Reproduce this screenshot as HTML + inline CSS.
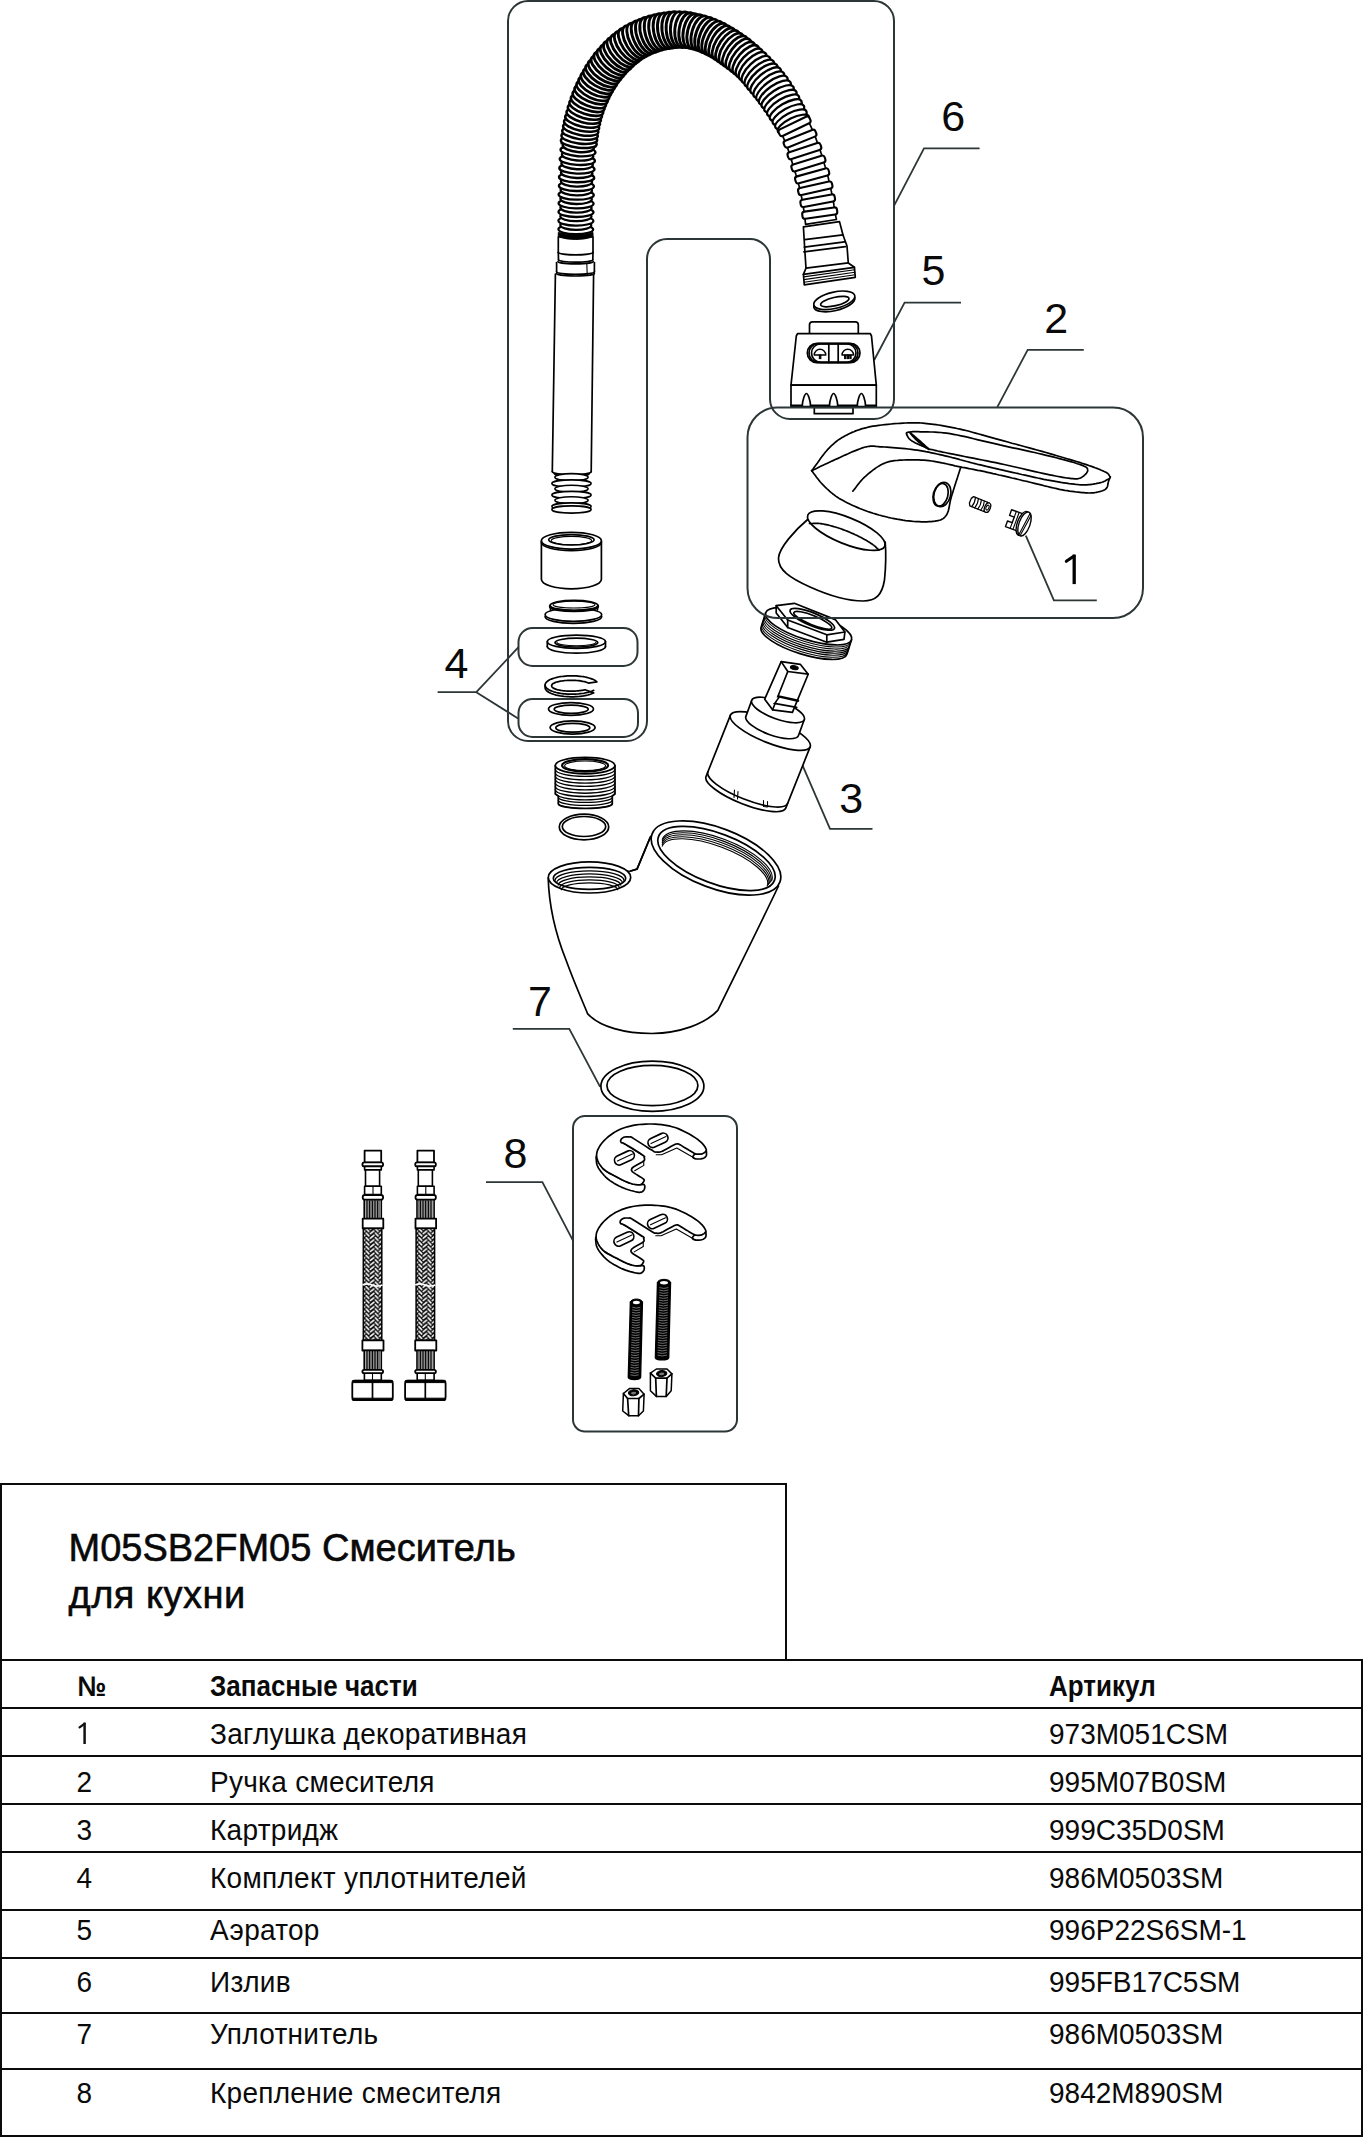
<!DOCTYPE html>
<html><head><meta charset="utf-8"><style>
html,body{margin:0;padding:0;background:#fff;}
body{width:1364px;height:2137px;position:relative;overflow:hidden;font-family:"Liberation Sans",sans-serif;color:#000;}
svg{position:absolute;left:0;top:0;}
.t{position:absolute;white-space:nowrap;line-height:1;font-family:"Liberation Sans",sans-serif;color:#0a0a0a;}
.b{font-weight:bold;}
.hl{position:absolute;left:0;height:2px;background:#0b0b0b;}
.vl{position:absolute;width:2px;background:#0b0b0b;}
.k{fill:none;stroke:#000;stroke-width:1.7;stroke-linejoin:round;stroke-linecap:round;}
.kw{fill:#fff;stroke:#000;stroke-width:1.7;stroke-linejoin:round;stroke-linecap:round;}
.kt{fill:none;stroke:#000;stroke-width:1.1;stroke-linejoin:round;stroke-linecap:round;}
.kb{fill:#000;stroke:#000;stroke-width:1;}
.bx{fill:none;stroke:#2d3636;stroke-width:2;}
.cl{fill:none;stroke:#2d3636;stroke-width:1.8;stroke-linecap:butt;}
</style></head><body>
<svg width="1364" height="2137" viewBox="0 0 1364 2137">
<path class="cl" d="M894.1 205.6 L924 148.3 L979.6 148.3"/>
<path class="cl" d="M874.2 360 L904.6 302.6 L961 302.6"/>
<path class="cl" d="M997.3 407.2 L1027.7 349.8 L1083.8 349.8"/>
<path class="cl" d="M1025.8 535.7 L1053.9 600.3 L1096.8 600.3"/>
<path class="cl" d="M802.1 764.3 L830 828.8 L872.5 828.8"/>
<path class="cl" d="M437.6 692.2 L476.3 692.2 L518.5 647.2"/>
<path class="cl" d="M476.3 692.2 L518.1 718.4"/>
<path class="cl" d="M512.8 1028.9 L569.3 1028.9 L600.1 1086.8"/>
<path class="cl" d="M486 1182.2 L542.4 1182.2 L573 1240.6"/>
<path fill="#000" stroke="#000" style="stroke-width:1.5" d="M595.6 146.9 L595.9 144.4 L596.2 142 L596.5 139.5 L596.8 137.1 L597.2 134.7 L597.6 132.3 L598 129.9 L598.4 127.5 L598.9 125.1 L599.5 122.7 L600 120.4 L600.7 118.1 L601.3 115.8 L602.1 113.5 L602.8 111.2 L603.7 108.9 L604.5 106.6 L605.5 104.4 L606.4 102.2 L607.4 100 L608.4 97.9 L609.5 95.7 L610.6 93.6 L611.7 91.5 L612.9 89.5 L614.1 87.4 L615.3 85.4 L616.6 83.5 L617.9 81.6 L619.3 79.8 L620.7 78 L622.1 76.2 L623.6 74.5 L625.1 72.8 L626.7 71.1 L628.3 69.5 L630 67.8 L631.7 66.3 L633.4 64.7 L635.1 63.2 L636.8 61.8 L638.5 60.5 L640.2 59.3 L641.9 58.1 L643.6 57 L645.4 56 L647.2 55 L649.1 54 L651.1 53.1 L653.1 52.2 L655.2 51.4 L657.3 50.7 L659.4 50 L661.5 49.4 L663.6 48.8 L665.8 48.3 L668 47.9 L670.2 47.5 L672.4 47.2 L674.6 46.9 L676.8 46.8 L678.7 46.7 L680.6 46.6 L682.4 46.7 L684.3 46.8 L686.4 47 L688.7 47.3 L690.9 47.8 L693.1 48.3 L695.2 49 L697.3 49.6 L699.2 50.3 L701.2 51.1 L703.2 51.9 L705.2 52.9 L707.1 53.8 L709.1 54.9 L711.1 56.1 L713.2 57.3 L715.2 58.6 L717.2 60 L719.2 61.3 L721.2 62.8 L723.1 64.2 L725.1 65.7 L727.1 67.1 L729 68.6 L731 70.1 L732.8 71.6 L734.7 73.2 L736.5 74.8 L738.2 76.4 L739.9 78.1 L741.5 79.8 L743 81.5 L744.5 83.3 L746.1 85.2 L747.6 87.2 L749.2 89.2 L750.9 91.2 L752.5 93.3 L754.1 95.2 L755.7 97.2 L757.1 99 L758.6 100.8 L760 102.7 L761.3 104.6 L762.7 106.6 L764.1 108.6 L765.6 110.8 L767 112.9 L768.4 115.1 L769.9 117.3 L771.3 119.5 L772.7 121.6 L774.1 123.7 L775.4 125.8 L776.6 127.9 L777.9 130.1 L779.1 132.3 L808.7 117.8 L807.4 115.2 L806.2 112.5 L804.9 109.9 L803.7 107.2 L802.4 104.6 L801.1 102.1 L799.7 99.6 L798.4 97.1 L797 94.7 L795.6 92.2 L794.2 89.7 L792.7 87.2 L791.1 84.7 L789.4 82.2 L787.7 79.6 L785.9 77.1 L784 74.6 L782.2 72.4 L780.4 70.2 L778.6 68 L776.7 65.9 L774.8 63.8 L772.8 61.7 L770.7 59.5 L768.6 57.4 L766.4 55.3 L764.1 53.1 L761.9 51.1 L759.6 49 L757.3 47 L755 45.1 L752.7 43.2 L750.4 41.3 L748.1 39.5 L745.7 37.7 L743.3 36 L740.9 34.3 L738.4 32.7 L735.9 31.1 L733.3 29.5 L730.7 28 L728.1 26.5 L725.3 25 L722.6 23.6 L719.7 22.2 L716.8 20.8 L713.7 19.6 L710.6 18.5 L707.5 17.5 L704.3 16.6 L701.2 15.8 L698.1 15.1 L695.1 14.5 L692 13.9 L688.8 13.3 L685.3 12.8 L681.7 12.5 L678.2 12.4 L674.7 12.5 L671.5 12.7 L668.3 13.1 L665.1 13.5 L662 14 L658.9 14.6 L655.8 15.2 L652.6 16 L649.5 16.8 L646.5 17.7 L643.4 18.8 L640.5 19.8 L637.5 21 L634.5 22.3 L631.5 23.7 L628.6 25.2 L625.6 26.8 L622.8 28.6 L620 30.4 L617.3 32.4 L614.7 34.4 L612.3 36.4 L609.9 38.5 L607.6 40.6 L605.4 42.8 L603.3 45 L601.1 47.3 L599.1 49.6 L597.1 52 L595.1 54.4 L593.2 56.9 L591.4 59.5 L589.6 62 L587.9 64.7 L586.2 67.3 L584.7 69.9 L583.2 72.6 L581.7 75.2 L580.3 77.9 L579 80.6 L577.7 83.3 L576.4 86.1 L575.2 88.9 L574.1 91.7 L573 94.5 L572 97.3 L571 100.1 L570 102.9 L569.1 105.8 L568.2 108.7 L567.4 111.5 L566.6 114.4 L565.8 117.3 L565.1 120.2 L564.5 123.1 L563.9 126 L563.3 129 L562.8 131.9 L562.4 134.8 L562 137.8 L561.6 140.6 L561.3 143.5 Z"/>
<ellipse class="kw" cx="575.8" cy="229.4" rx="17.4" ry="4.8" transform="rotate(0.5 575.8 229.4)" style="stroke-width:2.2"/>
<ellipse class="kw" cx="575.8" cy="225.1" rx="15.5" ry="4.8" transform="rotate(0.5 575.8 225.1)" style="stroke-width:2.2"/>
<ellipse class="kw" cx="575.9" cy="220.8" rx="17.5" ry="4.8" transform="rotate(0.5 575.9 220.8)" style="stroke-width:2.2"/>
<ellipse class="kw" cx="575.9" cy="216.4" rx="15.6" ry="4.8" transform="rotate(0.6 575.9 216.4)" style="stroke-width:2.2"/>
<ellipse class="kw" cx="576" cy="212.1" rx="17.5" ry="4.9" transform="rotate(0.7 576 212.1)" style="stroke-width:2.3"/>
<ellipse class="kw" cx="576" cy="207.8" rx="15.6" ry="4.9" transform="rotate(0.8 576 207.8)" style="stroke-width:2.3"/>
<ellipse class="kw" cx="576.1" cy="203.5" rx="17.5" ry="4.9" transform="rotate(0.9 576.1 203.5)" style="stroke-width:2.3"/>
<ellipse class="kw" cx="576.1" cy="199.1" rx="15.7" ry="4.9" transform="rotate(1 576.1 199.1)" style="stroke-width:2.3"/>
<ellipse class="kw" cx="576.2" cy="194.8" rx="17.6" ry="4.9" transform="rotate(1.1 576.2 194.8)" style="stroke-width:2.3"/>
<ellipse class="kw" cx="576.3" cy="190.4" rx="15.7" ry="4.9" transform="rotate(1.2 576.3 190.4)" style="stroke-width:2.3"/>
<ellipse class="kw" cx="576.4" cy="186.1" rx="17.5" ry="4.9" transform="rotate(1.3 576.4 186.1)" style="stroke-width:2.3"/>
<ellipse class="kw" cx="576.5" cy="181.7" rx="15.6" ry="4.9" transform="rotate(1.4 576.5 181.7)" style="stroke-width:2.3"/>
<ellipse class="kw" cx="576.6" cy="177.4" rx="17.6" ry="4.9" transform="rotate(1.5 576.6 177.4)" style="stroke-width:2.4"/>
<ellipse class="kw" cx="576.7" cy="173" rx="15.7" ry="5" transform="rotate(1.7 576.7 173)" style="stroke-width:2.4"/>
<ellipse class="kw" cx="576.9" cy="168.6" rx="17.6" ry="5" transform="rotate(2.2 576.9 168.6)" style="stroke-width:2.4"/>
<ellipse class="kw" cx="577.1" cy="164.2" rx="15.7" ry="5" transform="rotate(2.9 577.1 164.2)" style="stroke-width:2.4"/>
<ellipse class="kw" cx="577.3" cy="159.9" rx="17.6" ry="5" transform="rotate(3.5 577.3 159.9)" style="stroke-width:2.4"/>
<ellipse class="kw" cx="577.6" cy="155.5" rx="15.7" ry="5" transform="rotate(4.1 577.6 155.5)" style="stroke-width:2.4"/>
<ellipse class="kw" cx="578" cy="151.1" rx="17.5" ry="5.1" transform="rotate(4.6 578 151.1)" style="stroke-width:2.4"/>
<ellipse class="kw" cx="578.3" cy="146.7" rx="15.6" ry="5.3" transform="rotate(5.4 578.3 146.7)" style="stroke-width:2.5"/>
<ellipse class="kw" cx="578.8" cy="142.3" rx="18" ry="5.4" transform="rotate(6.4 578.8 142.3)" style="stroke-width:2.5"/>
<ellipse class="kw" cx="579.3" cy="137.9" rx="18" ry="5.6" transform="rotate(7.6 579.3 137.9)" style="stroke-width:2.5"/>
<ellipse class="kw" cx="580" cy="133.5" rx="18" ry="5.7" transform="rotate(9 580 133.5)" style="stroke-width:2.5"/>
<ellipse class="kw" cx="580.7" cy="129.1" rx="17.9" ry="5.9" transform="rotate(10.5 580.7 129.1)" style="stroke-width:2.5"/>
<ellipse class="kw" cx="581.6" cy="124.8" rx="17.9" ry="6" transform="rotate(12 581.6 124.8)" style="stroke-width:2.5"/>
<ellipse class="kw" cx="582.6" cy="120.4" rx="17.8" ry="6.2" transform="rotate(13.5 582.6 120.4)" style="stroke-width:2.6"/>
<ellipse class="kw" cx="583.7" cy="116.1" rx="17.7" ry="6.3" transform="rotate(15.1 583.7 116.1)" style="stroke-width:2.6"/>
<ellipse class="kw" cx="584.9" cy="111.8" rx="17.7" ry="6.4" transform="rotate(16.7 584.9 111.8)" style="stroke-width:2.6"/>
<ellipse class="kw" cx="586.3" cy="107.5" rx="17.7" ry="6.6" transform="rotate(18.5 586.3 107.5)" style="stroke-width:2.6"/>
<ellipse class="kw" cx="587.7" cy="103.3" rx="17.7" ry="6.7" transform="rotate(20.1 587.7 103.3)" style="stroke-width:2.7"/>
<ellipse class="kw" cx="589.3" cy="99.1" rx="17.7" ry="6.9" transform="rotate(21.7 589.3 99.1)" style="stroke-width:2.7"/>
<ellipse class="kw" cx="591.1" cy="94.9" rx="17.8" ry="7" transform="rotate(23.4 591.1 94.9)" style="stroke-width:2.7"/>
<ellipse class="kw" cx="592.9" cy="90.9" rx="17.8" ry="7.2" transform="rotate(25.2 592.9 90.9)" style="stroke-width:2.7"/>
<ellipse class="kw" cx="594.8" cy="86.9" rx="17.8" ry="7.3" transform="rotate(26.9 594.8 86.9)" style="stroke-width:2.8"/>
<ellipse class="kw" cx="596.9" cy="83" rx="17.9" ry="7.5" transform="rotate(28.7 596.9 83)" style="stroke-width:2.8"/>
<ellipse class="kw" cx="599.1" cy="79.2" rx="17.9" ry="7.5" transform="rotate(30.5 599.1 79.2)" style="stroke-width:2.8"/>
<ellipse class="kw" cx="601.3" cy="75.5" rx="18" ry="7.6" transform="rotate(32.5 601.3 75.5)" style="stroke-width:2.9"/>
<ellipse class="kw" cx="603.7" cy="71.9" rx="18" ry="7.7" transform="rotate(34.6 603.7 71.9)" style="stroke-width:2.9"/>
<ellipse class="kw" cx="606.3" cy="68.4" rx="18.1" ry="7.7" transform="rotate(36.9 606.3 68.4)" style="stroke-width:2.9"/>
<ellipse class="kw" cx="608.9" cy="65" rx="18.2" ry="7.8" transform="rotate(39.1 608.9 65)" style="stroke-width:2.9"/>
<ellipse class="kw" cx="611.7" cy="61.7" rx="18.2" ry="7.9" transform="rotate(41.3 611.7 61.7)" style="stroke-width:2.9"/>
<ellipse class="kw" cx="614.6" cy="58.5" rx="18.3" ry="7.9" transform="rotate(43.4 614.6 58.5)" style="stroke-width:2.9"/>
<ellipse class="kw" cx="617.6" cy="55.5" rx="18.4" ry="8" transform="rotate(45.4 617.6 55.5)" style="stroke-width:2.9"/>
<ellipse class="kw" cx="620.7" cy="52.5" rx="18.4" ry="8" transform="rotate(47.5 620.7 52.5)" style="stroke-width:2.9"/>
<ellipse class="kw" cx="623.9" cy="49.6" rx="18.4" ry="8.1" transform="rotate(49.7 623.9 49.6)" style="stroke-width:2.9"/>
<ellipse class="kw" cx="627.3" cy="46.9" rx="18.4" ry="8.2" transform="rotate(52.4 627.3 46.9)" style="stroke-width:2.9"/>
<ellipse class="kw" cx="630.7" cy="44.4" rx="18.4" ry="8.2" transform="rotate(55.6 630.7 44.4)" style="stroke-width:2.9"/>
<ellipse class="kw" cx="634.4" cy="42.1" rx="18.4" ry="8.3" transform="rotate(59 634.4 42.1)" style="stroke-width:2.9"/>
<ellipse class="kw" cx="638.1" cy="40" rx="18.3" ry="8.4" transform="rotate(62.3 638.1 40)" style="stroke-width:2.9"/>
<ellipse class="kw" cx="642" cy="38.1" rx="18.3" ry="8.4" transform="rotate(65.4 642 38.1)" style="stroke-width:2.9"/>
<ellipse class="kw" cx="645.9" cy="36.4" rx="18.2" ry="8.5" transform="rotate(68 645.9 36.4)" style="stroke-width:2.9"/>
<ellipse class="kw" cx="649.9" cy="34.9" rx="18.2" ry="8.6" transform="rotate(70.6 649.9 34.9)" style="stroke-width:2.9"/>
<ellipse class="kw" cx="654" cy="33.5" rx="18.1" ry="8.6" transform="rotate(73.2 654 33.5)" style="stroke-width:2.9"/>
<ellipse class="kw" cx="658.2" cy="32.4" rx="18.1" ry="8.7" transform="rotate(75.8 658.2 32.4)" style="stroke-width:2.9"/>
<ellipse class="kw" cx="662.4" cy="31.4" rx="18" ry="8.7" transform="rotate(78.4 662.4 31.4)" style="stroke-width:2.9"/>
<ellipse class="kw" cx="666.6" cy="30.7" rx="18" ry="8.8" transform="rotate(80.9 666.6 30.7)" style="stroke-width:2.9"/>
<ellipse class="kw" cx="670.9" cy="30.1" rx="18" ry="8.9" transform="rotate(83.4 670.9 30.1)" style="stroke-width:2.9"/>
<ellipse class="kw" cx="675.1" cy="29.7" rx="18" ry="8.9" transform="rotate(86.2 675.1 29.7)" style="stroke-width:2.9"/>
<ellipse class="kw" cx="679.4" cy="29.5" rx="17.9" ry="9" transform="rotate(90.1 679.4 29.5)" style="stroke-width:2.9"/>
<ellipse class="kw" cx="683.7" cy="29.7" rx="17.8" ry="8.9" transform="rotate(94.7 683.7 29.7)" style="stroke-width:2.9"/>
<ellipse class="kw" cx="688" cy="30.2" rx="17.6" ry="8.9" transform="rotate(98.7 688 30.2)" style="stroke-width:2.9"/>
<ellipse class="kw" cx="692.2" cy="31" rx="17.5" ry="8.8" transform="rotate(101.3 692.2 31)" style="stroke-width:2.9"/>
<ellipse class="kw" cx="696.4" cy="31.9" rx="17.5" ry="8.8" transform="rotate(103.6 696.4 31.9)" style="stroke-width:2.9"/>
<ellipse class="kw" cx="700.6" cy="33" rx="17.6" ry="8.7" transform="rotate(106.3 700.6 33)" style="stroke-width:2.9"/>
<ellipse class="kw" cx="704.7" cy="34.3" rx="17.7" ry="8.6" transform="rotate(109.4 704.7 34.3)" style="stroke-width:2.9"/>
<ellipse class="kw" cx="708.7" cy="35.9" rx="17.8" ry="8.6" transform="rotate(112.6 708.7 35.9)" style="stroke-width:2.9"/>
<ellipse class="kw" cx="712.6" cy="37.6" rx="17.8" ry="8.5" transform="rotate(115.5 712.6 37.6)" style="stroke-width:2.9"/>
<ellipse class="kw" cx="716.4" cy="39.5" rx="17.8" ry="8.4" transform="rotate(118 716.4 39.5)" style="stroke-width:2.9"/>
<ellipse class="kw" cx="720.2" cy="41.6" rx="17.8" ry="8.4" transform="rotate(120.1 720.2 41.6)" style="stroke-width:2.9"/>
<ellipse class="kw" cx="723.9" cy="43.9" rx="17.9" ry="8.3" transform="rotate(121.8 723.9 43.9)" style="stroke-width:2.8"/>
<ellipse class="kw" cx="727.6" cy="46.2" rx="18" ry="8.3" transform="rotate(123.4 727.6 46.2)" style="stroke-width:2.8"/>
<ellipse class="kw" cx="731.2" cy="48.7" rx="18.1" ry="8.2" transform="rotate(124.8 731.2 48.7)" style="stroke-width:2.8"/>
<ellipse class="kw" cx="734.9" cy="51.3" rx="18.2" ry="8.1" transform="rotate(126.3 734.9 51.3)" style="stroke-width:2.7"/>
<ellipse class="kw" cx="738.5" cy="54" rx="18.2" ry="8.1" transform="rotate(127.6 738.5 54)" style="stroke-width:2.7"/>
<ellipse class="kw" cx="742.1" cy="56.9" rx="18.1" ry="8" transform="rotate(129 742.1 56.9)" style="stroke-width:2.6"/>
<ellipse class="kw" cx="745.7" cy="59.8" rx="18.1" ry="7.9" transform="rotate(130.7 745.7 59.8)" style="stroke-width:2.6"/>
<ellipse class="kw" cx="749.2" cy="63" rx="18.1" ry="7.9" transform="rotate(132.6 749.2 63)" style="stroke-width:2.5"/>
<ellipse class="kw" cx="752.6" cy="66.2" rx="18.2" ry="7.8" transform="rotate(134.6 752.6 66.2)" style="stroke-width:2.5"/>
<ellipse class="kw" cx="756" cy="69.7" rx="18.4" ry="7.7" transform="rotate(136.8 756 69.7)" style="stroke-width:2.4"/>
<ellipse class="kw" cx="759.3" cy="73.3" rx="18.6" ry="7.6" transform="rotate(138.5 759.3 73.3)" style="stroke-width:2.4"/>
<ellipse class="kw" cx="762.4" cy="77" rx="18.8" ry="7.6" transform="rotate(139.5 762.4 77)" style="stroke-width:2.4"/>
<ellipse class="kw" cx="765.6" cy="80.7" rx="18.9" ry="7.5" transform="rotate(140.2 765.6 80.7)" style="stroke-width:2.4"/>
<ellipse class="kw" cx="768.8" cy="84.6" rx="18.9" ry="7.4" transform="rotate(141.1 768.8 84.6)" style="stroke-width:2.4"/>
<ellipse class="kw" cx="771.9" cy="88.5" rx="18.9" ry="7.2" transform="rotate(142.9 771.9 88.5)" style="stroke-width:2.3"/>
<ellipse class="kw" cx="774.8" cy="92.6" rx="18.8" ry="7.1" transform="rotate(145.3 774.8 92.6)" style="stroke-width:2.3"/>
<ellipse class="kw" cx="777.6" cy="96.8" rx="18.6" ry="7" transform="rotate(147.1 777.6 96.8)" style="stroke-width:2.3"/>
<ellipse class="kw" cx="780.4" cy="101.1" rx="18.5" ry="6.8" transform="rotate(148.3 780.4 101.1)" style="stroke-width:2.3"/>
<ellipse class="kw" cx="783.1" cy="105.5" rx="18.3" ry="6.7" transform="rotate(148.9 783.1 105.5)" style="stroke-width:2.3"/>
<ellipse class="kw" cx="785.7" cy="110" rx="18.1" ry="6.6" transform="rotate(149.6 785.7 110)" style="stroke-width:2.3"/>
<ellipse class="kw" cx="788.4" cy="114.6" rx="17.8" ry="6.4" transform="rotate(150.6 788.4 114.6)" style="stroke-width:2.2"/>
<ellipse class="kw" cx="790.9" cy="119.3" rx="17.5" ry="6.3" transform="rotate(152.2 790.9 119.3)" style="stroke-width:2.2"/>
<ellipse class="kw" cx="793.4" cy="124.1" rx="17.3" ry="6.2" transform="rotate(153.6 793.4 124.1)" style="stroke-width:2.2"/>
<path class="kw" d="M781.1 132.8 L781.4 133.5 L781.8 134.2 L782.1 134.9 L782.4 135.6 L782.8 136.3 L783.1 137 L783.4 137.7 L783.7 138.4 L784 139.1 L784.3 139.8 L784.6 140.5 L784.9 141.2 L785.2 141.9 L785.5 142.6 L785.8 143.3 L786.1 144 L786.4 144.7 L786.6 145.4 L786.9 146.1 L787.1 146.8 L787.4 147.5 L787.7 148.3 L787.9 149 L788.1 149.7 L788.4 150.4 L788.6 151.2 L788.9 151.9 L789.1 152.6 L789.3 153.4 L789.6 154.1 L789.8 154.9 L790 155.7 L790.3 156.4 L790.5 157.2 L790.8 158 L791 158.7 L791.2 159.5 L791.5 160.3 L791.7 161.1 L792 161.9 L792.2 162.6 L792.4 163.4 L792.7 164.2 L792.9 165 L793.2 165.8 L793.4 166.5 L793.7 167.3 L793.9 168.1 L794.2 168.9 L794.4 169.6 L794.6 170.4 L794.9 171.2 L795.1 172 L795.4 172.7 L795.6 173.5 L795.8 174.3 L796.1 175.1 L796.3 175.8 L796.5 176.6 L796.7 177.3 L797 178.1 L797.2 178.9 L797.4 179.6 L797.6 180.4 L797.8 181.1 L798 181.9 L798.2 182.6 L798.4 183.4 L798.6 184.1 L798.8 184.9 L799 185.6 L799.2 186.4 L799.3 187.1 L799.5 187.9 L799.7 188.6 L799.9 189.4 L800.1 190.2 L800.2 191 L800.4 191.7 L800.6 192.5 L800.7 193.3 L800.9 194.1 L801.1 194.8 L801.2 195.6 L801.4 196.4 L801.6 197.2 L801.7 198 L801.9 198.7 L802 199.5 L802.2 200.3 L802.3 201.1 L802.5 201.8 L802.6 202.6 L802.7 203.4 L802.9 204.1 L803 204.9 L803.1 205.7 L803.3 206.4 L803.4 207.2 L803.5 207.9 L803.6 208.7 L803.7 209.5 L803.8 210.2 L803.9 211 L804 211.8 L804.1 212.6 L804.2 213.4 L804.3 214.3 L804.4 215.1 L804.5 215.9 L804.6 216.8 L804.8 217.6 L804.9 218.5 L805 219.3 L805.1 220.2 L805.2 221 L805.3 221.9 L805.4 222.7 L805.5 223.6 L805.6 224.4 L836.4 219.5 L836.3 218.7 L836.1 217.9 L835.9 217.1 L835.8 216.4 L835.6 215.6 L835.5 214.8 L835.4 214 L835.2 213.2 L835.1 212.4 L835 211.6 L834.8 210.8 L834.7 210 L834.6 209.1 L834.4 208.3 L834.3 207.5 L834.2 206.6 L834 205.7 L833.9 204.9 L833.8 204 L833.6 203.1 L833.5 202.3 L833.3 201.4 L833.2 200.5 L833 199.6 L832.8 198.7 L832.7 197.9 L832.5 197 L832.3 196.1 L832.2 195.3 L832 194.4 L831.8 193.6 L831.6 192.7 L831.5 191.9 L831.3 191 L831.1 190.2 L830.9 189.3 L830.7 188.5 L830.6 187.6 L830.4 186.8 L830.2 186 L830 185.1 L829.8 184.3 L829.6 183.4 L829.4 182.6 L829.2 181.7 L829 180.9 L828.8 180 L828.6 179.2 L828.4 178.3 L828.2 177.4 L828 176.6 L827.7 175.7 L827.5 174.9 L827.3 174 L827 173.1 L826.8 172.3 L826.6 171.4 L826.3 170.6 L826.1 169.8 L825.9 168.9 L825.6 168.1 L825.4 167.3 L825.1 166.4 L824.9 165.6 L824.6 164.8 L824.4 164 L824.2 163.1 L823.9 162.3 L823.7 161.5 L823.4 160.7 L823.2 159.9 L822.9 159.1 L822.7 158.3 L822.4 157.5 L822.2 156.7 L821.9 155.9 L821.7 155.1 L821.4 154.3 L821.2 153.5 L820.9 152.7 L820.6 151.9 L820.4 151 L820.1 150.2 L819.8 149.4 L819.6 148.6 L819.3 147.8 L819 147 L818.7 146.2 L818.4 145.4 L818.2 144.6 L817.9 143.7 L817.6 142.9 L817.3 142.1 L816.9 141.3 L816.6 140.4 L816.3 139.6 L816 138.7 L815.7 137.9 L815.3 137.1 L815 136.2 L814.7 135.4 L814.3 134.5 L814 133.7 L813.7 132.9 L813.3 132 L813 131.2 L812.6 130.4 L812.2 129.5 L811.9 128.7 L811.5 127.9 L811.2 127.1 L810.8 126.3 L810.4 125.5 L810.1 124.7 L809.7 123.8 L809.3 123 L809 122.2 L808.6 121.4 L808.2 120.6 L807.8 119.8 Z"/>
<rect class="kw" x="777.4" y="122.7" width="34.1" height="7.2" rx="2.6" transform="rotate(154.2 794.5 126.3)" style="stroke-width:2.1"/>
<rect class="kw" x="782.9" y="135.1" width="34.1" height="7.2" rx="2.6" transform="rotate(158.1 800 138.7)" style="stroke-width:2.1"/>
<rect class="kw" x="787.1" y="147.5" width="34.6" height="7.2" rx="2.6" transform="rotate(161.8 804.4 151.1)" style="stroke-width:2.1"/>
<rect class="kw" x="791" y="159.9" width="34.8" height="7.2" rx="2.6" transform="rotate(162.8 808.4 163.5)" style="stroke-width:2.1"/>
<rect class="kw" x="794.7" y="172.3" width="34.7" height="7.2" rx="2.6" transform="rotate(164.4 812.1 175.9)" style="stroke-width:2.1"/>
<rect class="kw" x="797.8" y="184.7" width="34.7" height="7.2" rx="2.6" transform="rotate(167.4 815.2 188.3)" style="stroke-width:2.1"/>
<rect class="kw" x="800.3" y="197.1" width="34.8" height="7.2" rx="2.6" transform="rotate(169.6 817.7 200.7)" style="stroke-width:2.1"/>
<rect class="kw" x="802.1" y="209.5" width="35.1" height="7.2" rx="2.6" transform="rotate(171.9 819.7 213.1)" style="stroke-width:2.1"/>
<path fill="none" stroke="#000" style="stroke-width:3.3" stroke-linecap="butt" d="M1074.2 554.6 L1074.2 584.1"/>
<path fill="none" stroke="#000" style="stroke-width:3.0" stroke-linecap="round" d="M1074 556 L1066.3 561.3"/>
<path fill="none" stroke="#111" style="stroke-width:2.5" stroke-linecap="butt" d="M84.6 1722.6 L84.6 1744"/>
<path fill="none" stroke="#111" style="stroke-width:2.3" stroke-linecap="round" d="M84.4 1723.8 L79.6 1727.4"/>
<path class="kb" d="M558.3 232.5 Q575.6 237.5 593 232.5 L593 237 Q575.6 242 558.3 237 Z"/>
<path class="k" d="M558.3 237 L558.3 252.5"/>
<path class="k" d="M593 237 L593 252.5"/>
<path class="k"  d="M558.3 252.3 A17.3 2.6 0 0 0 592.9 252.3"/>
<path class="k" d="M558.3 252.5 L558.5 260"/>
<path class="k" d="M593 252.5 L592.8 260"/>
<path class="k"  d="M558.5 259.8 A17.1 2.4 0 0 0 592.7 259.8"/>
<path class="k"  d="M558 261.5 A17.6 2.4 0 0 0 593.2 261.5"/>
<path class="k" d="M556.6 262.5 L556.6 272"/>
<path class="k" d="M594.4 262.5 L594.4 272"/>
<path class="k"  d="M556.6 271.8 A18.9 2.6 0 0 0 594.4 271.8"/>
<path class="k"  d="M556.6 273.6 A18.9 2.4 0 0 0 594.4 273.6"/>
<path class="kt" d="M586.8 263.5 L587.2 274.5"/>
<path class="k" d="M555.4 274 L552.3 471.5"/>
<path class="k" d="M593.6 274 L591.2 471.5"/>
<path class="k"  d="M552.3 471.5 A19.5 3.2 0 0 0 591.3 471.5"/>
<path class="k"  d="M554.3 473.5 A17.5 2.8 0 0 0 589.3 473.5"/>
<ellipse class="kw" cx="571.5" cy="477.2" rx="16.6" ry="3.6" style="stroke-width:1.6"/>
<ellipse class="kw" cx="571.5" cy="483.5" rx="19.6" ry="3.6" style="stroke-width:1.6"/>
<ellipse class="kw" cx="571.5" cy="488.8" rx="16.6" ry="3.6" style="stroke-width:1.6"/>
<ellipse class="kw" cx="571.5" cy="495" rx="19.6" ry="3.6" style="stroke-width:1.6"/>
<ellipse class="kw" cx="571.5" cy="500.3" rx="16.6" ry="3.6" style="stroke-width:1.6"/>
<ellipse class="kw" cx="571.5" cy="506.5" rx="19.6" ry="3.6" style="stroke-width:1.6"/>
<ellipse class="kw" cx="571.5" cy="509.5" rx="19.6" ry="3.6" style="stroke-width:1.6"/>
<path class="kw" d="M541.4 541 L541.4 579.3 A30 9.5 0 0 0 601.4 579.3 L601.4 541 Z"/>
<ellipse class="kw" cx="571.4" cy="540.7" rx="30" ry="8.4" />
<path class="k"  d="M541.4 542.3 A30 8.4 0 0 0 601.4 542.3"/>
<ellipse class="k" cx="571.4" cy="539.8" rx="22.7" ry="5.2" />
<ellipse class="kt" cx="571.4" cy="540.6" rx="20.2" ry="4.2" />
<ellipse class="kw" cx="573.4" cy="614.7" rx="28.3" ry="6.6" />
<path class="k"  d="M545.1 616.7 A28.3 6.6 0 0 0 601.7 616.7"/>
<ellipse class="kw" cx="574" cy="605.4" rx="23.9" ry="5" />
<path class="k" style="stroke-width:2.6" d="M550.1 606.4 A23.9 4.6 0 0 0 597.9 606.4"/>
<path class="k" d="M550.1 605.4 L550.6 609.8"/>
<path class="k" d="M597.9 605.4 L597.4 609.8"/>
<ellipse class="kt" cx="574" cy="604.6" rx="21" ry="3.4" />
<path class="k"  d="M547.3 646.5 A29.1 6.7 0 0 0 605.5 646.5"/>
<path class="k" d="M547.3 641.7 L547.3 646.5"/>
<path class="k" d="M605.5 641.7 L605.5 646.5"/>
<ellipse class="k" cx="576.4" cy="641.7" rx="29.1" ry="6.6" />
<ellipse class="k" cx="576.4" cy="642.6" rx="21.4" ry="4.4" />
<path class="kt"  d="M556.9 642.2 A19.5 3.6 0 0 0 595.9 642.2"/>
<path class="k" d="M593.7 692.9 L592.7 693.3 L591.6 693.8 L590.4 694.2 L589.1 694.6 L587.8 695 L586.4 695.3 L585 695.6 L583.5 695.9 L582 696.1 L580.4 696.3 L578.8 696.5 L577.1 696.6 L575.5 696.7 L573.8 696.8 L572.1 696.8 L570.4 696.8 L568.7 696.7 L567 696.7 L565.4 696.5 L563.8 696.4 L562.2 696.2 L560.6 696 L559.1 695.7 L557.7 695.4 L556.2 695.1 L554.9 694.7 L553.6 694.3 L552.4 693.9 L551.3 693.5 L550.3 693 L549.3 692.6 L548.4 692.1 L547.7 691.5 L547 691 L546.4 690.5 L546 689.9 L545.6 689.3 L545.3 688.8 L545.2 688.2 L545.1 687.6 L545.1 685 L545.2 684.4 L545.4 683.7 L545.7 683.1 L546.1 682.5 L546.7 681.9 L547.4 681.3 L548.2 680.7 L549.2 680.1 L550.2 679.6 L551.3 679.1 L552.6 678.6 L553.9 678.2 L555.4 677.8 L556.9 677.4 L558.4 677 L560.1 676.7 L561.8 676.5 L563.5 676.3 L565.3 676.1 L567.2 675.9 L569 675.9 L570.9 675.8 L572.7 675.8 L574.6 675.9 L576.4 675.9 L578.3 676.1 L580.1 676.3 L581.8 676.5 L583.5 676.7 L585.1 677 L586.7 677.4 L588.2 677.8 L589.7 678.2 L591 678.6 L592.3 679.1 L593.4 679.6 L594.4 680.1 L595.4 680.7 L596.2 681.3 L596.9 681.9 L588.4 683.1 L587.8 682.8 L587.1 682.5 L586.3 682.2 L585.4 681.9 L584.5 681.7 L583.5 681.5 L582.5 681.3 L581.4 681.1 L580.3 680.9 L579.1 680.7 L577.9 680.6 L576.7 680.5 L575.5 680.4 L574.2 680.4 L572.9 680.3 L571.6 680.3 L570.3 680.3 L569 680.3 L567.7 680.4 L566.5 680.5 L565.2 680.5 L564 680.7 L562.8 680.8 L561.7 681 L560.6 681.1 L559.5 681.3 L558.5 681.6 L557.6 681.8 L556.7 682 L555.8 682.3 L555.1 682.6 L554.4 682.9 L553.8 683.2 L553.2 683.5 L552.8 683.8 L552.4 684.1 L552.1 684.5 L551.9 684.8 L551.7 685.2 L551.7 685.5 L551.7 686 L551.7 686.3 L551.8 686.6 L552 686.9 L552.2 687.2 L552.5 687.5 L552.9 687.8 L553.3 688.1 L553.8 688.4 L554.4 688.6 L555 688.9 L555.7 689.1 L556.4 689.4 L557.1 689.6 L558 689.8 L558.8 690 L559.7 690.2 L560.7 690.4 L561.7 690.5 L562.7 690.7 L563.7 690.8 L564.8 690.9 L565.9 691 L567 691.1 L568.1 691.1 L569.3 691.2 L570.4 691.2 L571.6 691.2 L572.7 691.2 L573.9 691.2 L575 691.1 L576.1 691 L577.2 690.9 L578.3 690.8 L579.4 690.7 L580.4 690.6 L581.4 690.4 L582.3 690.3 L583.3 690.1 L584.2 689.9 L585 689.7 Z"/>
<path class="k" d="M593.7 690.3 L592.7 690.7 L591.6 691.2 L590.4 691.6 L589.1 692 L587.8 692.4 L586.4 692.7 L585 693 L583.5 693.3 L582 693.5 L580.4 693.7 L578.8 693.9 L577.1 694 L575.5 694.1 L573.8 694.2 L572.1 694.2 L570.4 694.2 L568.7 694.1 L567 694.1 L565.4 693.9 L563.8 693.8 L562.2 693.6 L560.6 693.4 L559.1 693.1 L557.7 692.8 L556.2 692.5 L554.9 692.1 L553.6 691.7 L552.4 691.3 L551.3 690.9 L550.3 690.4 L549.3 690 L548.4 689.5 L547.7 688.9 L547 688.4 L546.4 687.9 L546 687.3 L545.6 686.7 L545.3 686.2 L545.2 685.6 L545.1 685"/>
<ellipse class="k" cx="571" cy="709" rx="22.5" ry="6.3" />
<ellipse class="k" cx="571.2" cy="709.3" rx="17" ry="4.1" />
<ellipse class="k" cx="572.6" cy="727.5" rx="22.5" ry="6.6" />
<ellipse class="k" cx="572.8" cy="727.7" rx="17" ry="4.4" />
<path class="kw" d="M803.4 226.8 L839.5 221.6 L843 235 L847 246 L848.3 263 L854.4 267.3 L855.3 277.3 L804.3 284.9 L803.4 274.3 L806 268.2 L804.8 250 L803.4 226.8 Z"/>
<path class="k" d="M804.7 239.6 L843 234.8"/>
<path class="k" d="M804.3 247.1 L844.6 241.8"/>
<path class="k" d="M803.9 251.9 L845.5 246.6"/>
<path class="k" d="M806 268.2 L848.3 262.9"/>
<path class="k" d="M803.4 274.3 L854.4 267.3"/>
<path class="kt" d="M803.6 276.9 L854.6 269.8"/>
<path class="kt" d="M803.9 279.6 L854.9 272.3"/>
<path class="kt" d="M804.1 282.2 L855.1 274.8"/>
<ellipse class="kw" cx="834.3" cy="302.5" rx="21" ry="8.2" transform="rotate(-13 834.3 302.5)" />
<ellipse class="kw" cx="834.3" cy="300.3" rx="21" ry="8.2" transform="rotate(-13 834.3 300.3)" />
<ellipse class="k" cx="834.8" cy="301.6" rx="14.5" ry="4.2" transform="rotate(-13 834.8 301.6)" />
<rect class="kw" x="809.5" y="321.8" width="48.8" height="14" rx="3"/>
<path class="kw" d="M796.3 336 L797.5 333.6 L870.3 333.6 L871.5 336 L876.3 385.1 L791 385.1 Z"/>
<rect class="kw" x="791" y="385.1" width="85.3" height="21.6"/>
<rect class="kb" x="791" y="405" width="85.3" height="2.4"/>
<path class="kw" d="M802.2 406.5 C802.4 400 804.9 393.5 806.4 393.5 C807.9 393.5 810.4 400 810.6 406.5 Z"/>
<path class="kw" d="M829.4 406.5 C829.6 400 832.1 393.5 833.6 393.5 C835.1 393.5 837.6 400 837.8 406.5 Z"/>
<path class="kw" d="M857.2 406.5 C857.4 400 859.9 393.5 861.4 393.5 C862.9 393.5 865.4 400 865.6 406.5 Z"/>
<rect class="kw" x="814.3" y="407.4" width="38.7" height="6.3"/>
<rect class="k" x="807.3" y="343.3" width="52.7" height="19.4" rx="9.7"/>
<rect class="k" x="811.5" y="343.8" width="44.5" height="18.5" rx="9.2"/>
<path class="k" d="M828.8 343.6 L818 343.6 A9 9.4 0 0 0 818 362.4 L828.8 362.4 Z"/>
<path class="k" d="M838.2 343.6 L849 343.6 A9 9.4 0 0 1 849 362.4 L838.2 362.4 Z"/>
<path class="k" d="M828.8 343.6 L838.2 343.6"/>
<path class="k" d="M828.8 362.4 L838.2 362.4"/>
<path class="k" d="M814.2 355 A5.8 5.8 0 0 1 825.8 355 Z" style="stroke-width:1.4"/>
<rect class="kb" x="819.3" y="355" width="1.6" height="3.6"/>
<path class="k" d="M842 355 A5.8 5.8 0 0 1 853.6 355 Z" style="stroke-width:1.4"/>
<rect class="kb" x="844.6" y="355" width="1.3" height="3.6"/><rect class="kb" x="847.2" y="355" width="1.3" height="3.6"/><rect class="kb" x="849.8" y="355" width="1.3" height="3.6"/>
<path class="k"  d="M811.7 470.7 L813.2 468.8 L814.6 466.8 L816.1 464.7 L817.6 462.7 L819 460.7 L820.5 458.6 L822 456.6 L823.4 454.7 L824.9 452.8 L826.4 451 L827.8 449.4 L829.3 447.8 L830.7 446.4 L832.2 445 L833.6 443.8 L834.9 442.6 L836.3 441.5 L837.7 440.4 L839.1 439.4 L840.6 438.5 L842.1 437.6 L843.6 436.7 L845.2 435.8 L846.9 434.9 L848.6 434 L850.3 433.2 L852.1 432.4 L853.9 431.7 L855.7 430.9 L857.5 430.2 L859.5 429.6 L861.5 428.9 L863.6 428.3 L865.7 427.8 L868 427.2 L870.4 426.7 L873 426.2 L875.7 425.8 L878.7 425.4 L881.7 425 L884.8 424.6 L888 424.3 L891.2 424 L894.3 423.7 L897.4 423.5 L900.3 423.3 L903 423.1 L905.6 423 L907.9 422.9 L910.1 422.8 L912.1 422.8 L914 422.8 L915.8 422.8 L917.6 422.8 L919.3 422.9 L921.1 423 L922.9 423.2 L924.8 423.4 L926.8 423.6 L929 423.8 L931.3 424.1 L933.6 424.4 L936 424.7 L938.4 425 L940.9 425.4 L943.5 425.8 L946.1 426.3 L948.7 426.8 L951.4 427.3 L954.2 427.8 L957.1 428.5 L960 429.1 L963 429.8 L966 430.5 L969.1 431.3 L972.3 432.2 L975.5 433.1 L978.8 434 L982.1 434.9 L985.5 435.9 L989 436.9 L992.6 437.9 L996.2 438.9 L999.9 439.9 L1003.7 440.9 L1007.8 442 L1011.9 443.2 L1016.2 444.3 L1020.6 445.5 L1025 446.7 L1029.3 447.9 L1033.7 449.1 L1037.9 450.3 L1042 451.4 L1046 452.5 L1049.7 453.6 L1053.3 454.6 L1056.9 455.7 L1060.4 456.7 L1063.8 457.7 L1067.1 458.7 L1070.3 459.6 L1073.5 460.6 L1076.5 461.5 L1079.4 462.4 L1082.1 463.3 L1084.7 464.1 L1087.1 464.9 L1089.4 465.7 L1091.5 466.4 L1093.4 467.1 L1095.2 467.8 L1096.9 468.4 L1098.5 469 L1100 469.6 L1101.3 470.2 L1102.6 470.7 L1103.7 471.3 L1104.8 471.8 L1105.8 472.3 L1106.7 472.8 L1107.4 473.2 L1107.9 473.7 L1108.4 474.1 L1108.7 474.4 L1108.9 474.8 L1109.1 475.2 L1109.3 475.5 L1109.5 475.9 L1109.7 476.2 L1110 476.6 L1110.3 477"/>
<path class="k"  d="M1110.3 477 L1110.2 477.3 L1110 477.6 L1109.9 477.9 L1109.7 478.2 L1109.6 478.5 L1109.5 478.8 L1109.3 479.1 L1109.2 479.4 L1109.1 479.8 L1108.9 480.1 L1108.8 480.6 L1108.6 481 L1108.5 481.5 L1108.3 482.1 L1108.2 482.7 L1108.1 483.3 L1108 484 L1107.9 484.6 L1107.7 485.3 L1107.6 486 L1107.4 486.6 L1107.1 487.2 L1106.8 487.7 L1106.5 488.2 L1106.1 488.6 L1105.7 489 L1105.2 489.4 L1104.8 489.7 L1104.2 490 L1103.7 490.3 L1103.1 490.5 L1102.5 490.8 L1101.8 491 L1101.1 491.2 L1100.4 491.4 L1099.6 491.6 L1098.8 491.8 L1098 492 L1097.2 492.2 L1096.3 492.4 L1095.4 492.5 L1094.5 492.7 L1093.5 492.8 L1092.4 492.9 L1091.2 492.9 L1090 493 L1088.6 493 L1087.1 492.9 L1085.5 492.8 L1083.8 492.7 L1082 492.6 L1080.2 492.4 L1078.2 492.2 L1076.2 492 L1074.1 491.7 L1071.9 491.4 L1069.6 491.1 L1067.2 490.7 L1064.8 490.3 L1062.2 489.8 L1059.5 489.3 L1056.7 488.7 L1053.7 488 L1050.7 487.3 L1047.5 486.5 L1044.3 485.8 L1041 484.9 L1037.7 484.1 L1034.4 483.3 L1031.2 482.5 L1028 481.7 L1024.8 481 L1021.7 480.3 L1018.5 479.5 L1015.2 478.7 L1012 478 L1008.7 477.2 L1005.5 476.4 L1002.3 475.7 L999.1 475 L996 474.2 L993.1 473.6 L990.2 472.9 L987.4 472.3 L984.8 471.7 L982.3 471.2 L979.9 470.7 L977.7 470.3 L975.5 469.8 L973.3 469.4 L971.2 469 L969 468.6 L966.9 468.1 L964.7 467.7 L962.4 467.3 L960 466.8 L957.5 466.3 L955 465.8 L952.5 465.2 L949.9 464.6 L947.3 464 L944.6 463.4 L942 462.9 L939.3 462.3 L936.7 461.8 L934.1 461.4 L931.5 461 L929 460.7 L926.5 460.4 L923.9 460.2 L921.3 460.1 L918.7 459.9 L916.1 459.9 L913.5 459.8 L911 459.8 L908.5 459.8 L906.2 459.9 L903.9 460 L901.7 460.1 L899.7 460.2 L897.8 460.4 L896.1 460.5 L894.5 460.7 L893 460.9 L891.5 461.1 L890.2 461.4 L888.8 461.7 L887.5 462.1 L886.2 462.5 L884.9 463.1 L883.5 463.6 L882.1 464.3 L880.6 465.1 L879.1 465.9 L877.6 466.9 L876 467.9 L874.5 469 L872.9 470.1 L871.4 471.3 L869.9 472.5 L868.5 473.7 L867.1 474.9 L865.8 476.1 L864.5 477.2 L863.3 478.3 L862.2 479.5 L861.2 480.6 L860.2 481.8 L859.2 483 L858.3 484.1 L857.4 485.3 L856.5 486.5 L855.6 487.7 L854.7 488.9 L853.8 490 L852.8 491.2"/>
<path class="k"  d="M811.7 470.7 L812.7 471.9 L813.6 473.2 L814.5 474.4 L815.4 475.6 L816.3 476.9 L817.2 478.1 L818.2 479.3 L819.1 480.5 L820.1 481.8 L821.2 483 L822.3 484.2 L823.5 485.4 L824.7 486.6 L826 487.8 L827.2 489 L828.5 490.2 L829.8 491.4 L831.2 492.6 L832.6 493.7 L834.2 494.9 L835.7 496.1 L837.4 497.2 L839.2 498.4 L841.1 499.5 L843.1 500.6 L845.2 501.8 L847.5 502.9 L849.8 504.1 L852.2 505.2 L854.7 506.3 L857.2 507.4 L859.8 508.5 L862.4 509.5 L865 510.5 L867.7 511.5 L870.4 512.4 L873.1 513.3 L876 514.1 L878.9 515 L881.9 515.8 L884.9 516.5 L888 517.3 L891.1 518 L894.1 518.6 L897.1 519.2 L900 519.7 L902.9 520.2 L905.6 520.6 L908.3 520.9 L911 521.2 L913.8 521.5 L916.5 521.6 L919.1 521.7 L921.7 521.8 L924.2 521.8 L926.7 521.8 L929 521.7 L931.1 521.6 L933.1 521.4 L934.9 521.2 L936.5 520.9 L937.9 520.7 L939.2 520.3 L940.4 520 L941.4 519.6 L942.3 519.1 L943.1 518.6 L943.9 518 L944.6 517.3 L945.3 516.5 L945.9 515.7 L946.6 514.7 L947.2 513.7 L947.7 512.5 L948.2 511.4 L948.5 510.1 L948.8 508.7 L949.1 507.3 L949.4 505.8 L949.7 504.2 L950 502.6 L950.3 500.8 L950.8 499 L951.3 497.1 L951.9 495.1 L952.6 492.9 L953.3 490.6 L954 488.3 L954.8 485.8 L955.6 483.3 L956.4 480.7 L957.3 478.1 L958.1 475.5 L958.9 473 L959.7 470.5 L960.5 468"/>
<path class="k"  d="M811.7 470.7 L813.6 469.8 L815.5 468.9 L817.4 468 L819.3 467 L821.2 466.1 L823.1 465.2 L825 464.3 L826.9 463.4 L828.9 462.5 L830.9 461.5 L833 460.6 L835.2 459.6 L837.5 458.6 L839.9 457.5 L842.4 456.3 L845 455.1 L847.6 454 L850.2 452.8 L852.8 451.6 L855.4 450.6 L857.9 449.6 L860.2 448.7 L862.4 447.9 L864.5 447.3 L866.3 446.8 L867.9 446.5 L869.3 446.3 L870.6 446.1 L871.8 446.1 L872.9 446.1 L874.1 446.2 L875.4 446.3 L876.7 446.5 L878.3 446.6 L880.1 446.8 L882.1 446.9 L884.4 447 L887 447.2 L889.7 447.4 L892.6 447.6 L895.6 447.8 L898.8 448.1 L901.9 448.4 L905.1 448.7 L908.3 449 L911.4 449.4 L914.4 449.8 L917.3 450.2 L920.1 450.6 L923 451.1 L925.8 451.7 L928.7 452.2 L931.5 452.8 L934.3 453.4 L937.1 454 L939.8 454.6 L942.4 455.2 L945 455.8 L947.6 456.4 L950 457 L952.3 457.6 L954.5 458.1 L956.5 458.6 L958.4 459.1 L960.3 459.7 L962.2 460.2 L964 460.7 L966 461.3 L968 461.8 L970.1 462.4 L972.4 463 L974.9 463.6 L977.6 464.3 L980.4 464.9 L983.4 465.6 L986.4 466.4 L989.6 467.1 L992.8 467.9 L996.1 468.6 L999.4 469.4 L1002.7 470.1 L1005.9 470.9 L1009.1 471.6 L1012.3 472.3 L1015.4 473 L1018.6 473.7 L1021.8 474.5 L1025 475.2 L1028.2 475.9 L1031.4 476.6 L1034.6 477.3 L1037.7 478 L1040.8 478.6 L1043.8 479.3 L1046.8 479.9 L1049.7 480.4 L1052.6 480.9 L1055.4 481.4 L1058.2 481.9 L1061 482.4 L1063.8 482.8 L1066.5 483.2 L1069.1 483.6 L1071.7 483.9 L1074.1 484.2 L1076.5 484.5 L1078.8 484.7 L1080.9 484.8 L1082.9 484.9 L1084.8 484.9 L1086.7 484.8 L1088.4 484.7 L1090 484.6 L1091.6 484.4 L1093.1 484.2 L1094.5 483.9 L1095.8 483.7 L1097.1 483.4 L1098.4 483.2 L1099.6 482.9 L1100.7 482.6 L1101.8 482.3 L1102.7 482 L1103.6 481.6 L1104.3 481.3 L1105.1 480.9 L1105.8 480.5 L1106.5 480.1 L1107.2 479.7 L1108 479.3 L1108.7 479 L1109.5 478.6"/>
<path class="k"  d="M929 449 L930.7 449.4 L932.2 449.7 L933.6 450 L934.9 450.3 L936.3 450.6 L937.7 451 L939.2 451.3 L940.9 451.7 L942.7 452.1 L944.8 452.5 L947.2 453 L950 453.6 L953.1 454.2 L956.6 454.9 L960.4 455.7 L964.5 456.5 L968.7 457.3 L973.1 458.2 L977.7 459.1 L982.2 460 L986.8 460.9 L991.3 461.8 L995.7 462.7 L999.9 463.6 L1004.1 464.5 L1008.5 465.5 L1012.9 466.5 L1017.4 467.5 L1021.9 468.5 L1026.4 469.6 L1030.7 470.6 L1034.9 471.6 L1039 472.5 L1042.8 473.3 L1046.4 474.1 L1049.7 474.8 L1052.7 475.4 L1055.5 476 L1058.1 476.5 L1060.4 476.9 L1062.7 477.3 L1064.7 477.7 L1066.6 478 L1068.4 478.2 L1070.1 478.4 L1071.7 478.6 L1073.2 478.7 L1074.6 478.8 L1075.9 478.8 L1077.1 478.8 L1078 478.7 L1078.9 478.5 L1079.6 478.3 L1080.3 478.1 L1080.9 477.8 L1081.4 477.5 L1081.9 477.2 L1082.4 476.8 L1082.9 476.5 L1083.4 476.1 L1084 475.7 L1084.5 475.2 L1085.1 474.7 L1085.6 474.2 L1086.1 473.7 L1086.5 473.1 L1086.9 472.5 L1087.3 471.9 L1087.5 471.4 L1087.7 470.8 L1087.7 470.3 L1087.7 469.8 L1087.6 469.4 L1087.5 468.9 L1087.4 468.6 L1087.2 468.2 L1086.9 467.9 L1086.5 467.5 L1086 467.1 L1085.4 466.8 L1084.6 466.4 L1083.6 465.9 L1082.4 465.4 L1080.9 464.9 L1079.2 464.3 L1077.3 463.7 L1075.3 463 L1073 462.3 L1070.6 461.6 L1068 460.9 L1065.3 460.1 L1062.4 459.4 L1059.4 458.6 L1056.3 457.8 L1053 456.9 L1049.7 456.1 L1046.2 455.3 L1042.5 454.4 L1038.6 453.5 L1034.5 452.5 L1030.3 451.6 L1026 450.7 L1021.6 449.7 L1017.2 448.7 L1012.8 447.8 L1008.4 446.8 L1004.1 445.8 L999.9 444.9 L995.7 443.9 L991.4 442.9 L987 441.9 L982.5 440.8 L978.1 439.8 L973.7 438.7 L969.4 437.7 L965.2 436.7 L961.1 435.8 L957.2 435 L953.5 434.3 L950 433.7 L946.7 433.2 L943.6 432.8 L940.7 432.5 L937.8 432.3 L935.2 432.1 L932.6 432 L930.2 432 L927.9 431.9 L925.7 431.9 L923.7 431.9 L921.8 431.8 L920 431.8 L918.4 431.7 L916.9 431.7 L915.6 431.7 L914.4 431.7 L913.4 431.7 L912.5 431.7 L911.7 431.8 L910.9 431.8 L910.3 431.9 L909.6 432 L909.1 432.1 L908.5 432.2 L908 432.3 L907.6 432.4 L907.2 432.5 L906.9 432.7 L906.7 432.8 L906.5 433 L906.5 433.1 L906.4 433.4 L906.4 433.6 L906.5 433.9 L906.6 434.2 L906.7 434.5 L906.9 434.9 L907 435.3 L907.3 435.8 L907.5 436.3 L907.8 436.8 L908.2 437.4 L908.6 438 L909.1 438.6 L909.7 439.2 L910.4 439.8 L911.1 440.4 L912 441 L913 441.6 L914.2 442.2 L915.4 442.9 L916.8 443.6 L918.3 444.2 L919.8 444.9 L921.3 445.6 L922.9 446.3 L924.5 447 L926 447.6 L927.5 448.3 L929 449"/>
<path class="k"  d="M910.3 432.8 L910 432.6 L910 432.8 L910.3 433.2 L910.8 433.9 L911.5 434.7 L912.3 435.6 L913.2 436.7 L914.2 437.7 L915.2 438.8 L916.2 439.8 L917.2 440.7 L918 441.5 L918.9 442.3 L920 443.1 L921.2 444.1 L922.5 445.1 L923.9 446 L925.1 447 L926.4 447.8 L927.4 448.5 L928.3 449.1 L928.8 449.4 L929.1 449.5 L929 449.3 L928.4 448.7 L927.3 447.7 L925.8 446.3 L924 444.7 L922 442.9 L919.9 441 L917.7 439.1 L915.7 437.3 L913.8 435.7 L912.2 434.4 L911 433.4 L910.3 432.8 Z"/>
<ellipse class="k" cx="942.3" cy="494.5" rx="8.3" ry="12.4" transform="rotate(15 942.3 494.5)" />
<ellipse class="k" cx="940.6" cy="494.8" rx="7.3" ry="11.6" transform="rotate(15 940.6 494.8)" />
<path class="kw" d="M808.2 519 C795 530 779 548 778.5 558 C778 570 790 578 810 587 C830 596 850 601 863 601 C876 601 882 595 884.5 580 C886 565 886 552 885.2 542 Z"/>
<ellipse class="kw" cx="846.3" cy="530.6" rx="41.5" ry="13.2" transform="rotate(22 846.3 530.6)" />
<path class="k"  d="M809.5 523.5 L810.5 523.5 L811.5 523.5 L812.5 523.5 L813.5 523.4 L814.4 523.4 L815.4 523.4 L816.4 523.4 L817.4 523.4 L818.5 523.4 L819.6 523.5 L820.8 523.6 L822 523.8 L823.3 524 L824.7 524.3 L826.1 524.6 L827.6 524.9 L829.1 525.3 L830.7 525.7 L832.2 526.1 L833.8 526.6 L835.4 527 L836.9 527.5 L838.5 528 L840 528.5 L841.5 529 L843 529.6 L844.6 530.2 L846.1 530.8 L847.7 531.4 L849.2 532 L850.8 532.7 L852.3 533.4 L853.8 534 L855.2 534.7 L856.6 535.3 L858 536 L859.3 536.7 L860.6 537.3 L861.9 538 L863.2 538.7 L864.5 539.4 L865.7 540.1 L866.9 540.8 L868 541.5 L869.1 542.1 L870.1 542.8 L871.1 543.4 L872 544 L872.8 544.6 L873.6 545.1 L874.2 545.6 L874.9 546.1 L875.4 546.6 L875.9 547.1 L876.4 547.6 L876.9 548.1 L877.4 548.5 L877.9 549 L878.4 549.5 L879 550"/>
<g transform="translate(981 505) rotate(22)"><path class="kw" d="M-10 -5 L7 -5 L7 5 L-10 5 L-11.5 2.5 L-11.5 -2.5 Z" style="stroke-width:1.3"/><path class="kt" d="M-8 -5 Q-6.3 0 -8 5"/><path class="kt" d="M-4.8 -5 Q-3.1 0 -4.8 5"/><path class="kt" d="M-1.6 -5 Q0.1 0 -1.6 5"/><path class="kt" d="M1.6 -5 Q3.3 0 1.6 5"/><path class="kt" d="M4.8 -5 Q6.5 0 4.8 5"/><ellipse class="kw" cx="7" cy="0" rx="2.8" ry="5" style="stroke-width:1.3"/><ellipse class="kt" cx="7" cy="0" rx="1.4" ry="2.6"/></g>
<g transform="translate(1024.5 524) rotate(20)"><path class="kw" d="M-17 -9 L-4 -9 L-4 9 L-17 9 L-17 3 L-12 3 L-12 -3 L-17 -3 Z" style="stroke-width:1.4"/><path class="kt" d="M-12 -9 L-12 -3 M-12 3 L-12 9 M-9 -9 L-9 9"/><ellipse class="kw" cx="-1.8" cy="0" rx="5.5" ry="12.6" style="stroke-width:1.4"/><ellipse class="kw" cx="0" cy="0" rx="5.5" ry="12.6" style="stroke-width:1.4"/><path class="kt" d="M1.6 -11.5 L-1.6 11.5 M3.2 -10 L0 11.8"/></g>
<g transform="rotate(17.5 808.6 626.3)">
<path class="kw" d="M763.6 626.3 L763.6 641.5 A45 13.5 0 0 0 853.6 641.5 L853.6 626.3 Z"/>
<path class="kt"  d="M763.6 628.4 A45 13.5 0 0 0 853.6 628.4"/>
<path class="kt"  d="M763.6 630.6 A45 13.5 0 0 0 853.6 630.6"/>
<path class="kt"  d="M763.6 632.8 A45 13.5 0 0 0 853.6 632.8"/>
<path class="kt"  d="M763.6 634.9 A45 13.5 0 0 0 853.6 634.9"/>
<path class="kt"  d="M763.6 637 A45 13.5 0 0 0 853.6 637"/>
<path class="kt"  d="M763.6 639.2 A45 13.5 0 0 0 853.6 639.2"/>
<ellipse class="kw" cx="808.6" cy="626.3" rx="45" ry="13.5" />
</g>
<path class="kw" d="M776.2 605.7 L794.3 603.3 L835.3 619.6 L844.9 632 L844 639.3 L826.8 642.2 L787.7 627.5 L776.2 613 Z"/>
<path class="k" d="M776.2 605.7 L787.7 620 L826.8 634.8 L844.9 632"/>
<path class="k" d="M787.7 620 L787.7 627.5"/>
<path class="k" d="M826.8 634.8 L826.8 642.2"/>
<ellipse class="k" cx="812.3" cy="619.3" rx="24" ry="6.4" transform="rotate(22.5 812.3 619.3)" />
<ellipse class="k" cx="812.8" cy="620.3" rx="20.5" ry="4.6" transform="rotate(22.5 812.8 620.3)" />
<g transform="rotate(21.7 770.3 731)">
<path class="kw" d="M727.4 731 L727.4 797 A42.9 12 0 0 0 813.2 797 L813.2 731 Z"/>
<path class="k"  d="M727.4 792 A42.9 12 0 0 0 813.2 792"/>
<ellipse class="kw" cx="770.3" cy="731" rx="42.9" ry="12" />
</g>
<path class="kt" d="M734.5 790 L734 797.5"/>
<path class="kt" d="M738 791.5 L737.5 799"/>
<path class="kt" d="M763.5 800.5 L763.5 806.5 L767.5 807 L767.5 801.5"/>
<g transform="rotate(20 778 710)">
<path class="kw" d="M750 710 L750 727 A28 9 0 0 0 806 727 L806 710 Z"/>
<ellipse class="kw" cx="778" cy="710" rx="28" ry="9" />
</g>
<path class="kw" d="M781.2 661.6 L764.7 699.2 L772.6 709.8 L792.4 712.4 L808.2 674.2 L800.3 664.3 Z"/>
<path class="k" d="M781.2 661.6 L787.8 671.5 L808.2 674.2"/>
<path class="k" d="M787.8 671.5 L772.6 709.8"/>
<path class="k" style="stroke-width:2.5" d="M778.6 696.4 L798 700.8"/>
<path class="k" d="M774.3 703.4 L796.7 707.4"/>
<path class="k" d="M778.9 697.5 L774.3 703.4"/>
<path fill="#fff" stroke="none" d="M772 697 L778 697.5 L774 703 L771 702 Z"/>
<ellipse class="kb" cx="794.3" cy="667.6" rx="4" ry="2" transform="rotate(10 794.3 667.6)" />
<path class="kw" d="M555.3 765.6 L555.3 794 L558.3 796 L558.3 804 A27 4.5 0 0 0 612.3 804 L612.3 796 L615 794 L615 765.6 Z"/>
<path class="k" style="stroke-width:1.35" d="M555.3 769.6 A29.8 6.8 0 0 0 614.9 769.6"/>
<path class="k" style="stroke-width:1.35" d="M555.3 773 A29.8 6.8 0 0 0 614.9 773"/>
<path class="k" style="stroke-width:1.35" d="M555.3 776.3 A29.8 6.8 0 0 0 614.9 776.3"/>
<path class="k" style="stroke-width:1.35" d="M555.3 779.6 A29.8 6.8 0 0 0 614.9 779.6"/>
<path class="k" style="stroke-width:1.35" d="M555.3 783 A29.8 6.8 0 0 0 614.9 783"/>
<path class="k" style="stroke-width:1.35" d="M555.3 786.4 A29.8 6.8 0 0 0 614.9 786.4"/>
<path class="k" style="stroke-width:1.35" d="M555.3 789.7 A29.8 6.8 0 0 0 614.9 789.7"/>
<path class="k" style="stroke-width:1.35" d="M555.3 793.1 A29.8 6.8 0 0 0 614.9 793.1"/>
<path class="k" style="stroke-width:1.3" d="M558.3 797.2 A27 5.2 0 0 0 612.3 797.2"/>
<path class="k" style="stroke-width:1.3" d="M558.3 800.2 A27 5.2 0 0 0 612.3 800.2"/>
<path class="k" style="stroke-width:1.3" d="M558.3 803.2 A27 5.2 0 0 0 612.3 803.2"/>
<ellipse class="kw" cx="585.1" cy="765.6" rx="29.8" ry="8.2" />
<ellipse class="k" cx="585.1" cy="765.4" rx="23" ry="6.2" style="stroke-width:2.2"/>
<ellipse class="kt" cx="585.1" cy="765.8" rx="20.5" ry="4.8" />
<ellipse class="k" cx="584" cy="827" rx="24.7" ry="12.8" />
<ellipse class="k" cx="584" cy="826.5" rx="21.7" ry="10" />
<path class="kw" d="M548.2 878 C549 905 556 935 566 960 C574 982 582 1000 587.7 1013.9 C600 1027 625 1033.5 652 1033.5 C680 1033 705 1024 717.8 1010.3 C735 975 760 925 778.5 886 L650 838 L637 869 L630.7 871 Z"/>
<ellipse class="kw" cx="589.5" cy="877.4" rx="41.2" ry="15.6" />
<ellipse class="k" cx="589.5" cy="878.3" rx="36.2" ry="11" />
<path class="k" style="stroke-width:1.3" d="M555 880.5 A34.5 9.6 0 0 1 624 880.5"/>
<path class="k" style="stroke-width:1.3" d="M556.6 882.8 A32.9 8.9 0 0 1 622.4 882.8"/>
<path class="k" style="stroke-width:1.3" d="M558.2 885.1 A31.3 8.2 0 0 1 620.8 885.1"/>
<path class="k" style="stroke-width:1.3" d="M559.8 887.4 A29.7 7.5 0 0 1 619.2 887.4"/>
<path class="k" style="stroke-width:1.3" d="M561.4 889.7 A28.1 6.8 0 0 1 617.6 889.7"/>
<path class="k" d="M630.7 871 L637.1 869.1 L650.5 836.5"/>
<ellipse class="kw" cx="716" cy="858" rx="68.3" ry="30.1" transform="rotate(20.7 716 858)" />
<ellipse class="k" cx="716.5" cy="858.5" rx="62" ry="25" transform="rotate(20.7 716.5 858.5)" />
<g transform="rotate(20.7 717 860)">
<path class="kt" d="M658.5 860 A58.5 22 0 0 1 775.5 860"/>
<path class="kt" d="M659.1 861.6 A57.9 21.5 0 0 1 774.9 861.6"/>
<path class="kt" d="M659.7 863.2 A57.3 21 0 0 1 774.3 863.2"/>
<path class="kt" d="M660.3 864.8 A56.7 20.5 0 0 1 773.7 864.8"/>
<path class="kt" d="M660.9 866.4 A56.1 20 0 0 1 773.1 866.4"/>
</g>
<ellipse class="k" cx="652.4" cy="1086.3" rx="51.5" ry="25.1" />
<ellipse class="k" cx="652.4" cy="1085.5" rx="45.5" ry="20.2" />
<path class="kw" d="M644.1 1184.6 L644.4 1185.1 L644.7 1185.7 L644.8 1186.4 L644.8 1187.2 L644.7 1188 L644.6 1188.7 L644.3 1189.3 L643.9 1190 L643.4 1190.6 L642.9 1191.2 L642.2 1191.7 L641.4 1192.1 L640.6 1192.2 L639.7 1192.3 L638.7 1192.3 L637.6 1192.1 L636.3 1191.9 L634.7 1191.5 L632.9 1191 L630.7 1190.5 L628.4 1189.8 L626 1189 L623.6 1188 L621.3 1187.1 L619 1186 L616.7 1184.7 L614.3 1183.4 L612.1 1182 L609.9 1180.6 L607.9 1179 L606 1177.3 L604.2 1175.5 L602.5 1173.5 L600.9 1171.6 L599.6 1169.8 L598.5 1168.1 L597.7 1166.5 L597.1 1165 L596.7 1163.6 L596.5 1162.3 L596.4 1161.1 L596.3 1160 L596.2 1159 L596.1 1157.9 L596.2 1157 L596.3 1156.3 L596.7 1156.1 L597.2 1156.5 L597.8 1157.7 L598.6 1159.6 L599.5 1162 L600.6 1164.5 L601.9 1167 L603.4 1169 L605.2 1170.6 L607.4 1172.1 L609.7 1173.4 L612.1 1174.6 L614.5 1175.8 L616.8 1177 L619.1 1178.2 L621.4 1179.4 L623.8 1180.6 L626 1181.6 L628.2 1182.6 L630.3 1183.3 L632.2 1183.8 L634 1184.2 L635.8 1184.4 L637.4 1184.5 L638.8 1184.5 L640.1 1184.6 L641.1 1184.7 L642 1184.6 L642.7 1184.5 L643.3 1184.4 L643.7 1184.4 L644.1 1184.6 Z"/>
<path class="kw" d="M705.8 1150.2 L706.2 1150.6 L706.4 1151.4 L706.5 1152.5 L706.5 1153.6 L706.5 1154.7 L706.3 1155.6 L706 1156.2 L705.5 1156.8 L705 1157.3 L704.4 1157.7 L703.7 1158.1 L702.9 1158.4 L701.9 1158.7 L700.9 1158.9 L699.7 1159 L698.5 1159 L697.4 1159 L696.4 1159 L695.6 1158.8 L694.8 1158.6 L694.1 1158.3 L693.5 1158 L693.1 1157.6 L692.9 1157.2 L692.9 1156.7 L693.2 1156 L693.6 1155.4 L694.2 1154.7 L694.8 1154.2 L695.5 1153.8 L696.4 1153.6 L697.5 1153.7 L698.6 1153.8 L699.8 1153.9 L700.9 1153.9 L701.8 1153.8 L702.6 1153.3 L703.4 1152.5 L704.2 1151.7 L704.8 1150.9 L705.4 1150.3 L705.8 1150.2 Z"/>
<path class="kw" d="M644.1 1180.6 L643.8 1181.4 L643.2 1182.4 L642.4 1183.3 L641.4 1184.2 L640.1 1184.6 L638.6 1184.8 L636.7 1184.7 L634.7 1184.4 L632.5 1184 L630.3 1183.3 L627.8 1182.4 L625.1 1181.2 L622.4 1179.9 L619.6 1178.5 L616.8 1177 L614 1175.6 L611.1 1174 L608.3 1172.4 L605.6 1170.7 L603.4 1169 L601.6 1167.1 L600.1 1165.1 L598.8 1163.1 L597.9 1161.1 L597.2 1159.1 L596.7 1157.3 L596.6 1155.5 L596.7 1153.8 L597 1152 L597.6 1150.2 L598.5 1148.3 L599.6 1146.3 L601 1144.3 L602.6 1142.3 L604.3 1140.4 L606.3 1138.5 L608.5 1136.5 L610.9 1134.7 L613.4 1133 L615.9 1131.4 L618.6 1130.1 L621.4 1128.8 L624.3 1127.8 L627.3 1126.8 L630.3 1126.1 L633.2 1125.4 L636.2 1124.9 L639.3 1124.5 L642.3 1124.3 L645.5 1124.1 L648.6 1124 L651.9 1124 L655.2 1124.2 L658.4 1124.4 L661.6 1124.7 L664.5 1125.1 L667.5 1125.6 L670.3 1126.2 L673.1 1127 L675.9 1127.8 L678.7 1128.9 L681.4 1130.1 L684.2 1131.4 L686.8 1132.7 L689.3 1134.1 L691.7 1135.5 L694 1136.9 L696.2 1138.4 L698.2 1139.8 L700 1141.3 L701.5 1142.7 L702.9 1144.1 L704 1145.5 L704.9 1146.8 L705.6 1148 L706 1148.9 L706.3 1149.6 L706.3 1150.2 L706.1 1150.7 L705.8 1151.3 L705.3 1151.9 L704.6 1152.5 L703.8 1153 L702.8 1153.5 L701.8 1153.8 L700.7 1154 L699.5 1154.2 L698.3 1154.2 L696.9 1154.1 L695.5 1153.8 L694.1 1153.2 L692.5 1152.3 L690.8 1151.3 L689.1 1150.3 L687.5 1149.3 L685.8 1148.3 L684 1147.2 L682.3 1146.1 L680.7 1145.1 L679.4 1144.4 L678.6 1144 L678 1143.8 L677.6 1143.8 L677.3 1143.8 L676.8 1143.9 L676.2 1144 L675.8 1144.1 L675.2 1144.3 L674.4 1144.7 L673.2 1145.3 L671.3 1146.3 L668.8 1147.7 L666.1 1149.2 L663.6 1150.6 L661.6 1151.5 L660.1 1152 L658.9 1152.2 L657.9 1152.2 L657 1152.1 L656.2 1152 L655.6 1152 L655.4 1152.1 L655.1 1152.1 L654.3 1151.7 L652.6 1150.6 L649.4 1148.7 L645.1 1145.9 L640.4 1142.9 L636.1 1140.1 L632.9 1138.1 L631.2 1137.1 L630.4 1136.8 L630.1 1136.8 L629.9 1136.9 L629.4 1137 L628.4 1136.9 L627.2 1136.9 L626.1 1136.9 L624.9 1137 L624 1137.2 L623.2 1137.6 L622.4 1138.1 L621.7 1138.7 L621.2 1139.3 L620.9 1139.9 L620.7 1140.5 L620.6 1141.1 L620.7 1141.6 L621 1142.1 L621.3 1142.6 L621.6 1142.8 L621.8 1142.8 L622.3 1142.8 L623.2 1143.1 L624.9 1143.9 L627.8 1145.7 L631.8 1148.1 L636.1 1150.8 L640 1153.3 L642.8 1155.1 L644.1 1156.1 L644.6 1156.6 L644.5 1156.8 L644.2 1157 L644.1 1157.4 L644.3 1157.9 L644.5 1158.6 L644.6 1159.3 L644.4 1160.1 L643.7 1160.9 L642.2 1162 L640 1163.2 L637.7 1164.5 L635.5 1165.7 L633.8 1166.7 L632.8 1167.5 L632.2 1168 L631.9 1168.5 L631.7 1168.9 L631.6 1169.4 L631.5 1169.9 L631.5 1170.4 L631.7 1170.8 L632.1 1171.4 L632.9 1172.1 L634.3 1173.1 L636.3 1174.4 L638.4 1175.7 L640.4 1176.9 L641.9 1177.9 L642.9 1178.6 L643.6 1179.2 L644 1179.6 L644.2 1180 L644.1 1180.6 Z"/>
<path class="kt" d="M624 1143.9 L625.8 1144.8 L642.8 1155.6"/>
<path class="kt" d="M643.7 1160.9 L643.8 1165.4 L634.7 1170.8"/>
<path class="kt" d="M656.2 1154.7 L661.6 1154.7 L676.8 1148 L695.5 1158.7"/>
<rect class="k" x="647.5" y="1135.6" width="21" height="9.5" rx="4.75" transform="rotate(-25 658 1140.4)"/>
<path class="kt" d="M651 1143.6 l15 -7" transform=""/>
<rect class="k" x="613.9" y="1153.1" width="21" height="9.5" rx="4.75" transform="rotate(-25 624.4 1157.8)"/>
<path class="kt" d="M617.4 1161 l15 -7" transform=""/>
<path class="kw" d="M643.6 1265.7 L643.9 1266.2 L644.2 1266.8 L644.3 1267.5 L644.3 1268.3 L644.2 1269.1 L644.1 1269.8 L643.8 1270.4 L643.4 1271.1 L642.9 1271.7 L642.4 1272.3 L641.7 1272.8 L640.9 1273.2 L640.1 1273.3 L639.2 1273.4 L638.2 1273.4 L637.1 1273.2 L635.8 1273 L634.2 1272.6 L632.4 1272.1 L630.2 1271.6 L627.9 1270.9 L625.5 1270.1 L623.1 1269.1 L620.8 1268.2 L618.5 1267.1 L616.2 1265.8 L613.8 1264.5 L611.6 1263.1 L609.4 1261.7 L607.4 1260.1 L605.5 1258.4 L603.7 1256.6 L602 1254.6 L600.4 1252.7 L599.1 1250.9 L598 1249.2 L597.2 1247.6 L596.6 1246.1 L596.2 1244.7 L596 1243.4 L595.9 1242.2 L595.8 1241.1 L595.7 1240.1 L595.6 1239 L595.7 1238.1 L595.8 1237.4 L596.2 1237.2 L596.7 1237.6 L597.3 1238.8 L598.1 1240.7 L599 1243.1 L600.1 1245.6 L601.4 1248.1 L602.9 1250.1 L604.7 1251.7 L606.9 1253.2 L609.2 1254.5 L611.6 1255.7 L614 1256.9 L616.3 1258.1 L618.6 1259.3 L620.9 1260.5 L623.3 1261.7 L625.5 1262.7 L627.7 1263.7 L629.8 1264.4 L631.7 1264.9 L633.5 1265.3 L635.3 1265.5 L636.9 1265.6 L638.3 1265.6 L639.6 1265.7 L640.6 1265.8 L641.5 1265.7 L642.2 1265.6 L642.8 1265.5 L643.2 1265.5 L643.6 1265.7 Z"/>
<path class="kw" d="M705.3 1231.3 L705.7 1231.7 L705.9 1232.5 L706 1233.6 L706 1234.7 L706 1235.8 L705.8 1236.7 L705.5 1237.3 L705 1237.9 L704.5 1238.4 L703.9 1238.8 L703.2 1239.2 L702.4 1239.5 L701.4 1239.8 L700.4 1240 L699.2 1240.1 L698 1240.1 L696.9 1240.1 L695.9 1240.1 L695.1 1239.9 L694.3 1239.7 L693.6 1239.4 L693 1239.1 L692.6 1238.7 L692.4 1238.3 L692.4 1237.8 L692.7 1237.1 L693.1 1236.5 L693.7 1235.8 L694.3 1235.3 L695 1234.9 L695.9 1234.7 L697 1234.8 L698.1 1234.9 L699.3 1235 L700.4 1235 L701.3 1234.9 L702.1 1234.4 L702.9 1233.6 L703.7 1232.8 L704.3 1232 L704.9 1231.4 L705.3 1231.3 Z"/>
<path class="kw" d="M643.6 1261.7 L643.3 1262.5 L642.7 1263.5 L641.9 1264.4 L640.9 1265.3 L639.6 1265.7 L638.1 1265.9 L636.2 1265.8 L634.2 1265.5 L632 1265.1 L629.8 1264.4 L627.3 1263.5 L624.6 1262.3 L621.9 1261 L619.1 1259.6 L616.3 1258.1 L613.5 1256.7 L610.6 1255.1 L607.8 1253.5 L605.1 1251.8 L602.9 1250.1 L601.1 1248.2 L599.6 1246.2 L598.3 1244.2 L597.4 1242.2 L596.7 1240.2 L596.2 1238.4 L596.1 1236.6 L596.2 1234.9 L596.5 1233.1 L597.1 1231.3 L598 1229.4 L599.1 1227.4 L600.5 1225.4 L602.1 1223.4 L603.8 1221.5 L605.8 1219.6 L608 1217.6 L610.4 1215.8 L612.9 1214.1 L615.4 1212.5 L618.1 1211.2 L620.9 1209.9 L623.8 1208.9 L626.8 1207.9 L629.8 1207.2 L632.7 1206.5 L635.7 1206 L638.8 1205.6 L641.8 1205.4 L645 1205.2 L648.1 1205.1 L651.4 1205.1 L654.7 1205.3 L657.9 1205.5 L661.1 1205.8 L664 1206.2 L667 1206.7 L669.8 1207.3 L672.6 1208.1 L675.4 1208.9 L678.2 1210 L680.9 1211.2 L683.7 1212.5 L686.3 1213.8 L688.8 1215.2 L691.2 1216.6 L693.5 1218 L695.7 1219.5 L697.7 1220.9 L699.5 1222.4 L701 1223.8 L702.4 1225.2 L703.5 1226.6 L704.4 1227.9 L705.1 1229.1 L705.5 1230 L705.8 1230.7 L705.8 1231.3 L705.6 1231.8 L705.3 1232.4 L704.8 1233 L704.1 1233.6 L703.3 1234.1 L702.3 1234.6 L701.3 1234.9 L700.2 1235.1 L699 1235.3 L697.8 1235.3 L696.4 1235.2 L695 1234.9 L693.6 1234.3 L692 1233.4 L690.3 1232.4 L688.6 1231.4 L687 1230.4 L685.3 1229.4 L683.5 1228.3 L681.8 1227.2 L680.2 1226.2 L678.9 1225.5 L678.1 1225.1 L677.5 1224.9 L677.1 1224.9 L676.8 1224.9 L676.3 1225 L675.7 1225.1 L675.3 1225.2 L674.7 1225.4 L673.9 1225.8 L672.7 1226.4 L670.8 1227.4 L668.3 1228.8 L665.6 1230.3 L663.1 1231.7 L661.1 1232.6 L659.6 1233.1 L658.4 1233.3 L657.4 1233.3 L656.5 1233.2 L655.7 1233.1 L655.1 1233.1 L654.9 1233.2 L654.6 1233.2 L653.8 1232.8 L652.1 1231.7 L648.9 1229.8 L644.6 1227 L639.9 1224 L635.6 1221.2 L632.4 1219.2 L630.7 1218.2 L629.9 1217.9 L629.6 1217.9 L629.4 1218 L628.9 1218.1 L627.9 1218 L626.7 1218 L625.6 1218 L624.4 1218.1 L623.5 1218.3 L622.7 1218.7 L621.9 1219.2 L621.2 1219.8 L620.7 1220.4 L620.4 1221 L620.2 1221.6 L620.1 1222.2 L620.2 1222.7 L620.5 1223.2 L620.8 1223.7 L621.1 1223.9 L621.3 1223.9 L621.8 1223.9 L622.7 1224.2 L624.4 1225 L627.3 1226.8 L631.3 1229.2 L635.6 1231.9 L639.5 1234.4 L642.3 1236.2 L643.6 1237.2 L644.1 1237.7 L644 1237.9 L643.7 1238.1 L643.6 1238.5 L643.8 1239 L644 1239.7 L644.1 1240.4 L643.9 1241.2 L643.2 1242 L641.7 1243.1 L639.5 1244.3 L637.2 1245.6 L635 1246.8 L633.3 1247.8 L632.3 1248.6 L631.7 1249.1 L631.4 1249.6 L631.2 1250 L631.1 1250.5 L631 1251 L631 1251.5 L631.2 1251.9 L631.6 1252.5 L632.4 1253.2 L633.8 1254.2 L635.8 1255.5 L637.9 1256.8 L639.9 1258 L641.4 1259 L642.4 1259.7 L643.1 1260.3 L643.5 1260.7 L643.7 1261.1 L643.6 1261.7 Z"/>
<path class="kt" d="M623.5 1225 L625.3 1225.9 L642.3 1236.7"/>
<path class="kt" d="M643.2 1242 L643.3 1246.5 L634.2 1251.9"/>
<path class="kt" d="M655.7 1235.8 L661.1 1235.8 L676.3 1229.1 L695 1239.8"/>
<rect class="k" x="647" y="1216.7" width="21" height="9.5" rx="4.75" transform="rotate(-25 657.5 1221.5)"/>
<path class="kt" d="M650.5 1224.7 l15 -7" transform=""/>
<rect class="k" x="613.4" y="1234.2" width="21" height="9.5" rx="4.75" transform="rotate(-25 623.9 1238.9)"/>
<path class="kt" d="M616.9 1242.1 l15 -7" transform=""/>
<path class="kb" d="M630.4 1302.3 L642.4 1302.3 L640.6 1377.4 A6.2 2.5 0 0 1 628.3 1377.4 Z" style="stroke-width:1.4"/>
<ellipse class="kb" cx="636.4" cy="1302.3" rx="6" ry="3.3"/>
<path stroke="#8a8a8a" style="stroke-width:0.8" fill="none" d="M632.3 1307.3 Q636.3 1308.9 640.3 1307.3"/>
<path stroke="#8a8a8a" style="stroke-width:0.8" fill="none" d="M632.2 1309.8 Q636.2 1311.4 640.2 1309.8"/>
<path stroke="#8a8a8a" style="stroke-width:0.8" fill="none" d="M632.1 1312.3 Q636.1 1313.9 640.2 1312.3"/>
<path stroke="#8a8a8a" style="stroke-width:0.8" fill="none" d="M632.1 1314.8 Q636.1 1316.4 640.1 1314.8"/>
<path stroke="#8a8a8a" style="stroke-width:0.8" fill="none" d="M632 1317.3 Q636 1318.9 640 1317.3"/>
<path stroke="#8a8a8a" style="stroke-width:0.8" fill="none" d="M631.9 1319.8 Q635.9 1321.4 640 1319.8"/>
<path stroke="#8a8a8a" style="stroke-width:0.8" fill="none" d="M631.8 1322.3 Q635.9 1323.9 639.9 1322.3"/>
<path stroke="#8a8a8a" style="stroke-width:0.8" fill="none" d="M631.8 1324.8 Q635.8 1326.4 639.9 1324.8"/>
<path stroke="#8a8a8a" style="stroke-width:0.8" fill="none" d="M631.7 1327.3 Q635.8 1328.9 639.8 1327.3"/>
<path stroke="#8a8a8a" style="stroke-width:0.8" fill="none" d="M631.6 1329.8 Q635.7 1331.4 639.7 1329.8"/>
<path stroke="#8a8a8a" style="stroke-width:0.8" fill="none" d="M631.6 1332.3 Q635.6 1333.9 639.7 1332.3"/>
<path stroke="#8a8a8a" style="stroke-width:0.8" fill="none" d="M631.5 1334.8 Q635.6 1336.4 639.6 1334.8"/>
<path stroke="#8a8a8a" style="stroke-width:0.8" fill="none" d="M631.4 1337.3 Q635.5 1338.9 639.6 1337.3"/>
<path stroke="#8a8a8a" style="stroke-width:0.8" fill="none" d="M631.4 1339.8 Q635.4 1341.4 639.5 1339.8"/>
<path stroke="#8a8a8a" style="stroke-width:0.8" fill="none" d="M631.3 1342.3 Q635.4 1343.9 639.4 1342.3"/>
<path stroke="#8a8a8a" style="stroke-width:0.8" fill="none" d="M631.2 1344.8 Q635.3 1346.4 639.4 1344.8"/>
<path stroke="#8a8a8a" style="stroke-width:0.8" fill="none" d="M631.1 1347.3 Q635.2 1348.9 639.3 1347.3"/>
<path stroke="#8a8a8a" style="stroke-width:0.8" fill="none" d="M631.1 1349.8 Q635.2 1351.4 639.3 1349.8"/>
<path stroke="#8a8a8a" style="stroke-width:0.8" fill="none" d="M631 1352.3 Q635.1 1353.9 639.2 1352.3"/>
<path stroke="#8a8a8a" style="stroke-width:0.8" fill="none" d="M630.9 1354.8 Q635 1356.4 639.1 1354.8"/>
<path stroke="#8a8a8a" style="stroke-width:0.8" fill="none" d="M630.9 1357.3 Q635 1358.9 639.1 1357.3"/>
<path stroke="#8a8a8a" style="stroke-width:0.8" fill="none" d="M630.8 1359.8 Q634.9 1361.4 639 1359.8"/>
<path stroke="#8a8a8a" style="stroke-width:0.8" fill="none" d="M630.7 1362.3 Q634.8 1363.9 639 1362.3"/>
<path stroke="#8a8a8a" style="stroke-width:0.8" fill="none" d="M630.7 1364.8 Q634.8 1366.4 638.9 1364.8"/>
<path stroke="#8a8a8a" style="stroke-width:0.8" fill="none" d="M630.6 1367.3 Q634.7 1368.9 638.8 1367.3"/>
<path stroke="#8a8a8a" style="stroke-width:0.8" fill="none" d="M630.5 1369.8 Q634.6 1371.4 638.8 1369.8"/>
<path stroke="#8a8a8a" style="stroke-width:0.8" fill="none" d="M630.4 1372.3 Q634.6 1373.9 638.7 1372.3"/>
<path stroke="#8a8a8a" style="stroke-width:0.8" fill="none" d="M630.4 1374.8 Q634.5 1376.4 638.7 1374.8"/>
<ellipse fill="#fff" stroke="none" cx="636.4" cy="1302.5" rx="3.5" ry="1.7"/>
<path class="kb" d="M657.5 1282.6 L670.5 1282.6 L668.7 1357.7 A6.7 2.5 0 0 1 655.4 1357.7 Z" style="stroke-width:1.4"/>
<ellipse class="kb" cx="664" cy="1282.6" rx="6.5" ry="3.3"/>
<path stroke="#8a8a8a" style="stroke-width:0.8" fill="none" d="M659.4 1287.6 Q663.9 1289.2 668.4 1287.6"/>
<path stroke="#8a8a8a" style="stroke-width:0.8" fill="none" d="M659.3 1290.1 Q663.8 1291.7 668.3 1290.1"/>
<path stroke="#8a8a8a" style="stroke-width:0.8" fill="none" d="M659.2 1292.6 Q663.7 1294.2 668.3 1292.6"/>
<path stroke="#8a8a8a" style="stroke-width:0.8" fill="none" d="M659.2 1295.1 Q663.7 1296.7 668.2 1295.1"/>
<path stroke="#8a8a8a" style="stroke-width:0.8" fill="none" d="M659.1 1297.6 Q663.6 1299.2 668.1 1297.6"/>
<path stroke="#8a8a8a" style="stroke-width:0.8" fill="none" d="M659 1300.1 Q663.5 1301.7 668.1 1300.1"/>
<path stroke="#8a8a8a" style="stroke-width:0.8" fill="none" d="M658.9 1302.6 Q663.5 1304.2 668 1302.6"/>
<path stroke="#8a8a8a" style="stroke-width:0.8" fill="none" d="M658.9 1305.1 Q663.4 1306.7 668 1305.1"/>
<path stroke="#8a8a8a" style="stroke-width:0.8" fill="none" d="M658.8 1307.6 Q663.4 1309.2 667.9 1307.6"/>
<path stroke="#8a8a8a" style="stroke-width:0.8" fill="none" d="M658.7 1310.1 Q663.3 1311.7 667.8 1310.1"/>
<path stroke="#8a8a8a" style="stroke-width:0.8" fill="none" d="M658.7 1312.6 Q663.2 1314.2 667.8 1312.6"/>
<path stroke="#8a8a8a" style="stroke-width:0.8" fill="none" d="M658.6 1315.1 Q663.2 1316.7 667.7 1315.1"/>
<path stroke="#8a8a8a" style="stroke-width:0.8" fill="none" d="M658.5 1317.6 Q663.1 1319.2 667.7 1317.6"/>
<path stroke="#8a8a8a" style="stroke-width:0.8" fill="none" d="M658.5 1320.1 Q663 1321.7 667.6 1320.1"/>
<path stroke="#8a8a8a" style="stroke-width:0.8" fill="none" d="M658.4 1322.6 Q663 1324.2 667.5 1322.6"/>
<path stroke="#8a8a8a" style="stroke-width:0.8" fill="none" d="M658.3 1325.1 Q662.9 1326.7 667.5 1325.1"/>
<path stroke="#8a8a8a" style="stroke-width:0.8" fill="none" d="M658.2 1327.6 Q662.8 1329.2 667.4 1327.6"/>
<path stroke="#8a8a8a" style="stroke-width:0.8" fill="none" d="M658.2 1330.1 Q662.8 1331.7 667.4 1330.1"/>
<path stroke="#8a8a8a" style="stroke-width:0.8" fill="none" d="M658.1 1332.6 Q662.7 1334.2 667.3 1332.6"/>
<path stroke="#8a8a8a" style="stroke-width:0.8" fill="none" d="M658 1335.1 Q662.6 1336.7 667.2 1335.1"/>
<path stroke="#8a8a8a" style="stroke-width:0.8" fill="none" d="M658 1337.6 Q662.6 1339.2 667.2 1337.6"/>
<path stroke="#8a8a8a" style="stroke-width:0.8" fill="none" d="M657.9 1340.1 Q662.5 1341.7 667.1 1340.1"/>
<path stroke="#8a8a8a" style="stroke-width:0.8" fill="none" d="M657.8 1342.6 Q662.4 1344.2 667.1 1342.6"/>
<path stroke="#8a8a8a" style="stroke-width:0.8" fill="none" d="M657.8 1345.1 Q662.4 1346.7 667 1345.1"/>
<path stroke="#8a8a8a" style="stroke-width:0.8" fill="none" d="M657.7 1347.6 Q662.3 1349.2 666.9 1347.6"/>
<path stroke="#8a8a8a" style="stroke-width:0.8" fill="none" d="M657.6 1350.1 Q662.2 1351.7 666.9 1350.1"/>
<path stroke="#8a8a8a" style="stroke-width:0.8" fill="none" d="M657.5 1352.6 Q662.2 1354.2 666.8 1352.6"/>
<path stroke="#8a8a8a" style="stroke-width:0.8" fill="none" d="M657.5 1355.1 Q662.1 1356.7 666.8 1355.1"/>
<ellipse fill="#fff" stroke="none" cx="664" cy="1282.8" rx="4" ry="1.7"/>
<path class="kw" style="stroke-width:1.5" d="M623.4 1393.5 L629.4 1388.6 L638.9 1388.6 L644.1 1394.2 L643.4 1411 L638.5 1415.7 L628.7 1415.7 L622.7 1411 Z"/>
<path class="k" d="M623.4 1393.5 L627.6 1398.5 L638.9 1398.5 L644.1 1394.2"/>
<path class="k" d="M627.6 1398.5 L628.7 1415.7"/>
<path class="k" d="M638.9 1398.5 L638.5 1415.7"/>
<ellipse class="kb" cx="633.6" cy="1392.8" rx="5.2" ry="3" transform="rotate(-5 633.6 1392.8)" />
<ellipse class="" cx="633.6" cy="1393.1" rx="2.6" ry="1.3" transform="rotate(-5 633.6 1393.1)" fill="#777"/>
<path class="kw" style="stroke-width:1.5" d="M650.4 1373.2 L656.4 1369 L667 1369 L671.9 1373.9 L671.2 1390.7 L666.2 1396.4 L656.4 1396.4 L650.4 1390.7 Z"/>
<path class="k" d="M650.4 1373.2 L655.7 1378.1 L667 1378.1 L671.9 1373.9"/>
<path class="k" d="M655.7 1378.1 L656.4 1396.4"/>
<path class="k" d="M667 1378.1 L666.2 1396.4"/>
<ellipse class="kb" cx="661.7" cy="1373.6" rx="5.2" ry="3" transform="rotate(-5 661.7 1373.6)" />
<ellipse class="" cx="661.7" cy="1373.9" rx="2.6" ry="1.3" transform="rotate(-5 661.7 1373.9)" fill="#777"/>
<defs><pattern id="braid" x="365.5" y="1230.7" width="9.2" height="4.46" patternUnits="userSpaceOnUse"><rect width="9.2" height="4.46" fill="#0a0a0a"/><path d="M0.6 2.4 L3.4 5.2 M0.6 -2.06 L3.4 0.74 M4.9 3.0 L8.3 0.2 M4.9 7.46 L8.3 4.66" stroke="#fff" style="stroke-width:1.6" stroke-linecap="round" fill="none"/></pattern></defs>
<g transform="translate(0 0)">
<rect class="kw" x="364.6" y="1150.6" width="16.6" height="12" style="stroke-width:1.8"/>
<rect class="kw" x="362.4" y="1162.4" width="20.7" height="4" rx="2" style="stroke-width:1.8"/>
<rect class="kw" x="364.6" y="1166.4" width="16.7" height="3.5" style="stroke-width:1.6"/>
<rect class="kw" x="365.5" y="1169.9" width="14.1" height="16.3" style="stroke-width:1.6"/>
<rect class="kw" x="364.6" y="1186.2" width="16.7" height="8.3" style="stroke-width:1.6"/>
<path class="kt" d="M373 1186.2 L373 1194.5"/>
<rect class="kw" x="362.7" y="1195" width="20.4" height="4.6" rx="2.2" style="stroke-width:1.8"/>
<rect class="kw" x="364.2" y="1199.8" width="17.1" height="18.9" style="stroke-width:1.6"/>
<path class="kt" d="M366.2 1200.5 L366.2 1218"/>
<path class="kt" d="M367.8 1200.5 L367.8 1218"/>
<path class="kt" d="M369.4 1200.5 L369.4 1218"/>
<path class="kt" d="M371 1200.5 L371 1218"/>
<path class="kt" d="M372.6 1200.5 L372.6 1218"/>
<path class="kt" d="M374.2 1200.5 L374.2 1218"/>
<path class="kt" d="M375.8 1200.5 L375.8 1218"/>
<path class="kt" d="M377.4 1200.5 L377.4 1218"/>
<path class="kt" d="M379 1200.5 L379 1218"/>
<rect class="kw" x="362.7" y="1218.7" width="20.6" height="9.7" style="stroke-width:1.8"/>
<rect x="363.3" y="1228.4" width="18.5" height="112" fill="url(#braid)" stroke="#000" style="stroke-width:1.5"/>
<path d="M362.5 1285 Q367 1282.8 372 1285 T382.5 1285" stroke="#fff" fill="none" style="stroke-width:1.6"/>
<rect class="kw" x="362.4" y="1340.4" width="21.1" height="10.1" style="stroke-width:1.8"/>
<rect class="kw" x="364.2" y="1350.5" width="17.1" height="19.3" style="stroke-width:1.6"/>
<path class="kt" d="M366.2 1351 L366.2 1369.3"/>
<path class="kt" d="M367.8 1351 L367.8 1369.3"/>
<path class="kt" d="M369.4 1351 L369.4 1369.3"/>
<path class="kt" d="M371 1351 L371 1369.3"/>
<path class="kt" d="M372.6 1351 L372.6 1369.3"/>
<path class="kt" d="M374.2 1351 L374.2 1369.3"/>
<path class="kt" d="M375.8 1351 L375.8 1369.3"/>
<path class="kt" d="M377.4 1351 L377.4 1369.3"/>
<path class="kt" d="M379 1351 L379 1369.3"/>
<rect class="kw" x="362.4" y="1369.8" width="20.7" height="3.5" rx="1.7" style="stroke-width:1.8"/>
<rect class="kw" x="364.4" y="1373.3" width="16.9" height="7.1" style="stroke-width:1.6"/>
<path class="kt" d="M372.5 1373.3 L372.5 1380.4"/>
<rect class="kw" x="352.3" y="1380.6" width="40.5" height="19.6" rx="3" style="stroke-width:1.8"/>
<rect class="kb" x="352.3" y="1380.4" width="40.5" height="2.2" rx="1"/>
<rect class="kb" x="352.3" y="1398.2" width="40.5" height="2.2" rx="1"/>
<path class="k" d="M372.5 1380.6 L372.5 1400"/>
</g>
<g transform="translate(52.8 0)">
<rect class="kw" x="364.6" y="1150.6" width="16.6" height="12" style="stroke-width:1.8"/>
<rect class="kw" x="362.4" y="1162.4" width="20.7" height="4" rx="2" style="stroke-width:1.8"/>
<rect class="kw" x="364.6" y="1166.4" width="16.7" height="3.5" style="stroke-width:1.6"/>
<rect class="kw" x="365.5" y="1169.9" width="14.1" height="16.3" style="stroke-width:1.6"/>
<rect class="kw" x="364.6" y="1186.2" width="16.7" height="8.3" style="stroke-width:1.6"/>
<path class="kt" d="M373 1186.2 L373 1194.5"/>
<rect class="kw" x="362.7" y="1195" width="20.4" height="4.6" rx="2.2" style="stroke-width:1.8"/>
<rect class="kw" x="364.2" y="1199.8" width="17.1" height="18.9" style="stroke-width:1.6"/>
<path class="kt" d="M366.2 1200.5 L366.2 1218"/>
<path class="kt" d="M367.8 1200.5 L367.8 1218"/>
<path class="kt" d="M369.4 1200.5 L369.4 1218"/>
<path class="kt" d="M371 1200.5 L371 1218"/>
<path class="kt" d="M372.6 1200.5 L372.6 1218"/>
<path class="kt" d="M374.2 1200.5 L374.2 1218"/>
<path class="kt" d="M375.8 1200.5 L375.8 1218"/>
<path class="kt" d="M377.4 1200.5 L377.4 1218"/>
<path class="kt" d="M379 1200.5 L379 1218"/>
<rect class="kw" x="362.7" y="1218.7" width="20.6" height="9.7" style="stroke-width:1.8"/>
<rect x="363.3" y="1228.4" width="18.5" height="112" fill="url(#braid)" stroke="#000" style="stroke-width:1.5"/>
<path d="M362.5 1285 Q367 1282.8 372 1285 T382.5 1285" stroke="#fff" fill="none" style="stroke-width:1.6"/>
<rect class="kw" x="362.4" y="1340.4" width="21.1" height="10.1" style="stroke-width:1.8"/>
<rect class="kw" x="364.2" y="1350.5" width="17.1" height="19.3" style="stroke-width:1.6"/>
<path class="kt" d="M366.2 1351 L366.2 1369.3"/>
<path class="kt" d="M367.8 1351 L367.8 1369.3"/>
<path class="kt" d="M369.4 1351 L369.4 1369.3"/>
<path class="kt" d="M371 1351 L371 1369.3"/>
<path class="kt" d="M372.6 1351 L372.6 1369.3"/>
<path class="kt" d="M374.2 1351 L374.2 1369.3"/>
<path class="kt" d="M375.8 1351 L375.8 1369.3"/>
<path class="kt" d="M377.4 1351 L377.4 1369.3"/>
<path class="kt" d="M379 1351 L379 1369.3"/>
<rect class="kw" x="362.4" y="1369.8" width="20.7" height="3.5" rx="1.7" style="stroke-width:1.8"/>
<rect class="kw" x="364.4" y="1373.3" width="16.9" height="7.1" style="stroke-width:1.6"/>
<path class="kt" d="M372.5 1373.3 L372.5 1380.4"/>
<rect class="kw" x="352.3" y="1380.6" width="40.5" height="19.6" rx="3" style="stroke-width:1.8"/>
<rect class="kb" x="352.3" y="1380.4" width="40.5" height="2.2" rx="1"/>
<rect class="kb" x="352.3" y="1398.2" width="40.5" height="2.2" rx="1"/>
<path class="k" d="M372.5 1380.6 L372.5 1400"/>
</g>
<path class="bx" d="M508 21 A20 20 0 0 1 528 1 L874 1 A20 20 0 0 1 894 21 L894 399 A20 20 0 0 1 874 419 L790 419 A20 20 0 0 1 770 399 L770 259 A20 20 0 0 0 750 239 L667 239 A20 20 0 0 0 647 259 L647 721 A20 20 0 0 1 627 741 L528 741 A20 20 0 0 1 508 721 Z"/>
<rect class="bx" x="747.5" y="407.5" width="395.5" height="210.5" rx="30"/>
<rect class="bx" x="573" y="1116" width="164" height="315.5" rx="12"/>
<rect class="bx" x="518.5" y="628" width="119" height="38" rx="14"/>
<rect class="bx" x="518.5" y="699" width="119.5" height="38" rx="14"/>
</svg>
<div class="hl" style="top:1483px;width:787px"></div>
<div class="hl" style="top:1659px;width:1363px"></div>
<div class="hl" style="top:1707px;width:1363px"></div>
<div class="hl" style="top:1755px;width:1363px"></div>
<div class="hl" style="top:1803px;width:1363px"></div>
<div class="hl" style="top:1851px;width:1363px"></div>
<div class="hl" style="top:1909px;width:1363px"></div>
<div class="hl" style="top:1957px;width:1363px"></div>
<div class="hl" style="top:2012px;width:1363px"></div>
<div class="hl" style="top:2068px;width:1363px"></div>
<div class="hl" style="top:2135px;width:1363px"></div>
<div class="vl" style="left:0;top:1483px;height:654px"></div>
<div class="vl" style="left:785px;top:1483px;height:178px"></div>
<div class="vl" style="left:1361px;top:1659px;height:478px"></div>
<div class="t b" style="left:77.5px;top:1674px;font-size:26px;transform:scaleY(1.100);transform-origin:0 22px">№</div>
<div class="t b" style="left:210px;top:1674px;font-size:26px;transform:scaleY(1.100);transform-origin:0 22px">Запасные части</div>
<div class="t b" style="left:1049px;top:1674px;font-size:26px;transform:scaleY(1.100);transform-origin:0 22px">Артикул</div>
<div class="t" style="left:210px;top:1721.1px;font-size:28px;letter-spacing:0.28px;transform:scaleY(1.040);transform-origin:0 23.7px">Заглушка декоративная</div>
<div class="t" style="left:1049px;top:1721.1px;font-size:28px;transform:scaleY(1.040);transform-origin:0 23.7px">973M051CSM</div>
<div class="t" style="left:76.5px;top:1769.1px;font-size:28px;transform:scaleY(1.040);transform-origin:0 23.7px">2</div>
<div class="t" style="left:210px;top:1769.1px;font-size:28px;letter-spacing:0.28px;transform:scaleY(1.040);transform-origin:0 23.7px">Ручка смесителя</div>
<div class="t" style="left:1049px;top:1769.1px;font-size:28px;transform:scaleY(1.040);transform-origin:0 23.7px">995M07B0SM</div>
<div class="t" style="left:76.5px;top:1817.1px;font-size:28px;transform:scaleY(1.040);transform-origin:0 23.7px">3</div>
<div class="t" style="left:210px;top:1817.1px;font-size:28px;letter-spacing:0.28px;transform:scaleY(1.040);transform-origin:0 23.7px">Картридж</div>
<div class="t" style="left:1049px;top:1817.1px;font-size:28px;transform:scaleY(1.040);transform-origin:0 23.7px">999C35D0SM</div>
<div class="t" style="left:76.5px;top:1864.6px;font-size:28px;transform:scaleY(1.040);transform-origin:0 23.7px">4</div>
<div class="t" style="left:210px;top:1864.6px;font-size:28px;letter-spacing:0.28px;transform:scaleY(1.040);transform-origin:0 23.7px">Комплект уплотнителей</div>
<div class="t" style="left:1049px;top:1864.6px;font-size:28px;transform:scaleY(1.040);transform-origin:0 23.7px">986M0503SM</div>
<div class="t" style="left:76.5px;top:1917.4px;font-size:28px;transform:scaleY(1.040);transform-origin:0 23.7px">5</div>
<div class="t" style="left:210px;top:1917.4px;font-size:28px;letter-spacing:0.28px;transform:scaleY(1.040);transform-origin:0 23.7px">Аэратор</div>
<div class="t" style="left:1049px;top:1917.4px;font-size:28px;transform:scaleY(1.040);transform-origin:0 23.7px">996P22S6SM-1</div>
<div class="t" style="left:76.5px;top:1968.9px;font-size:28px;transform:scaleY(1.040);transform-origin:0 23.7px">6</div>
<div class="t" style="left:210px;top:1968.9px;font-size:28px;letter-spacing:0.28px;transform:scaleY(1.040);transform-origin:0 23.7px">Излив</div>
<div class="t" style="left:1049px;top:1968.9px;font-size:28px;transform:scaleY(1.040);transform-origin:0 23.7px">995FB17C5SM</div>
<div class="t" style="left:76.5px;top:2020.7px;font-size:28px;transform:scaleY(1.040);transform-origin:0 23.7px">7</div>
<div class="t" style="left:210px;top:2020.7px;font-size:28px;letter-spacing:0.28px;transform:scaleY(1.040);transform-origin:0 23.7px">Уплотнитель</div>
<div class="t" style="left:1049px;top:2020.7px;font-size:28px;transform:scaleY(1.040);transform-origin:0 23.7px">986M0503SM</div>
<div class="t" style="left:76.5px;top:2079.6px;font-size:28px;transform:scaleY(1.040);transform-origin:0 23.7px">8</div>
<div class="t" style="left:210px;top:2079.6px;font-size:28px;letter-spacing:0.28px;transform:scaleY(1.040);transform-origin:0 23.7px">Крепление смесителя</div>
<div class="t" style="left:1049px;top:2079.6px;font-size:28px;transform:scaleY(1.040);transform-origin:0 23.7px">9842M890SM</div>
<div class="t" style="left:68.5px;top:1528.8px;font-size:38px;-webkit-text-stroke:0.55px #000">M05SB2FM05 Смеситель</div>
<div class="t" style="left:68.5px;top:1575.8px;font-size:38px;-webkit-text-stroke:0.55px #000;letter-spacing:0.5px">для кухни</div>
<div class="t" style="left:933.2px;top:94.9px;font-size:43px;width:40px;text-align:center">6</div>
<div class="t" style="left:913.5px;top:249.1px;font-size:43px;width:40px;text-align:center">5</div>
<div class="t" style="left:1036.3px;top:297.4px;font-size:43px;width:40px;text-align:center">2</div>
<div class="t" style="left:831.3px;top:776.7px;font-size:43px;width:40px;text-align:center">3</div>
<div class="t" style="left:436.5px;top:642.3px;font-size:43px;width:40px;text-align:center">4</div>
<div class="t" style="left:520px;top:980.3px;font-size:43px;width:40px;text-align:center">7</div>
<div class="t" style="left:495.5px;top:1131.9px;font-size:43px;width:40px;text-align:center">8</div>
</body></html>
